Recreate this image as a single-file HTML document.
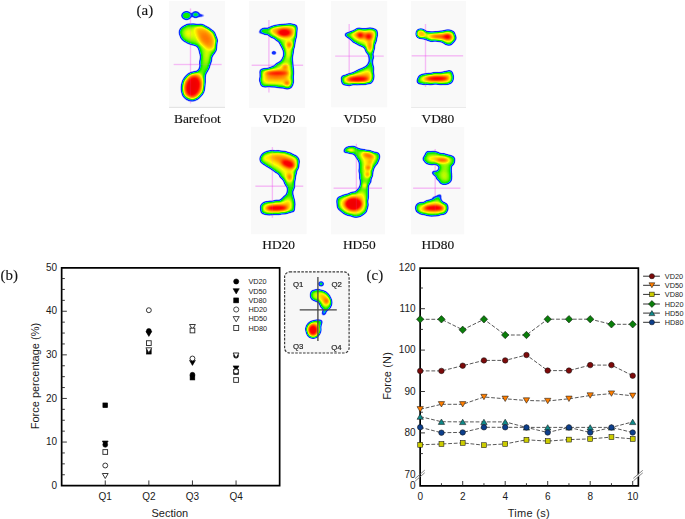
<!DOCTYPE html>
<html><head><meta charset="utf-8"><style>
html,body{margin:0;padding:0;background:#fff;}
body{width:685px;height:519px;overflow:hidden;}
svg{display:block;}
.pl{font-family:"Liberation Serif",serif;font-size:13.4px;fill:#111;stroke:#111;stroke-width:0.15px;}
.pn{font-family:"Liberation Serif",serif;font-size:15px;fill:#111;stroke:#111;stroke-width:0.12px;}
.tk{font-family:"Liberation Sans",sans-serif;font-size:10px;fill:#1a1a1a;}
.ax{font-family:"Liberation Sans",sans-serif;font-size:11px;fill:#1a1a1a;}
.lg{font-family:"Liberation Sans",sans-serif;font-size:7.3px;fill:#1a1a1a;}
.iq{font-family:"Liberation Sans",sans-serif;font-size:7.8px;fill:#222;stroke:#222;stroke-width:0.2px;}
</style></head><body>
<svg width="685" height="519" viewBox="0 0 685 519">
<defs><radialGradient id="hg"><stop offset="0" stop-color="#fff" stop-opacity="1"/><stop offset="0.3" stop-color="#fff" stop-opacity="0.9"/><stop offset="0.55" stop-color="#fff" stop-opacity="0.66"/><stop offset="0.8" stop-color="#fff" stop-opacity="0.3"/><stop offset="1" stop-color="#fff" stop-opacity="0"/></radialGradient>
<radialGradient id="hf"><stop offset="0" stop-color="#fff" stop-opacity="1"/><stop offset="0.45" stop-color="#fff" stop-opacity="0.96"/><stop offset="0.68" stop-color="#fff" stop-opacity="0.72"/><stop offset="0.86" stop-color="#fff" stop-opacity="0.32"/><stop offset="1" stop-color="#fff" stop-opacity="0"/></radialGradient><filter id="heatbare" filterUnits="userSpaceOnUse" x="0" y="0" width="685" height="519" color-interpolation-filters="sRGB">
<feGaussianBlur in="SourceAlpha" stdDeviation="1.2" result="bl"/>
<feColorMatrix in="bl" type="matrix" values="0 0 0 1 0  0 0 0 1 0  0 0 0 1 0  0 0 0 0 1" result="gr"/>
<feComponentTransfer in="gr" result="col"><feFuncR type="table" tableValues="0.471 0.439 0.408 0.376 0.345 0.314 0.267 0.220 0.173 0.125 0.078 0.067 0.056 0.045 0.034 0.022 0.011 0.000 0.000 0.000 0.000 0.000 0.000 0.000 0.000 0.000 0.000 0.000 0.000 0.000 0.020 0.039 0.059 0.078 0.098 0.118 0.137 0.157 0.216 0.275 0.333 0.392 0.451 0.510 0.569 0.627 0.681 0.734 0.787 0.840 0.894 0.947 1.000 1.000 1.000 1.000 1.000 1.000 1.000 1.000 1.000 1.000 1.000 1.000 1.000 1.000 1.000 1.000 1.000 1.000 1.000 1.000 1.000 1.000 1.000 1.000 1.000 1.000 1.000 1.000 1.000 1.000 1.000 1.000 1.000 1.000 1.000 1.000 1.000 0.993 0.987 0.980 0.974 0.967 0.961 0.954 0.948 0.941 0.935 0.928 0.922"/><feFuncG type="table" tableValues="0.549 0.518 0.486 0.455 0.424 0.392 0.345 0.298 0.251 0.204 0.157 0.168 0.179 0.190 0.202 0.213 0.224 0.235 0.322 0.408 0.494 0.580 0.667 0.734 0.801 0.868 0.905 0.910 0.916 0.922 0.924 0.926 0.929 0.931 0.934 0.936 0.939 0.941 0.946 0.951 0.956 0.961 0.966 0.971 0.975 0.980 0.983 0.986 0.989 0.992 0.994 0.997 1.000 0.975 0.949 0.924 0.898 0.873 0.847 0.822 0.796 0.771 0.745 0.718 0.691 0.664 0.637 0.610 0.583 0.556 0.529 0.502 0.472 0.443 0.413 0.383 0.354 0.324 0.295 0.265 0.235 0.206 0.176 0.147 0.118 0.088 0.059 0.029 0.000 0.000 0.000 0.000 0.000 0.000 0.000 0.000 0.000 0.000 0.000 0.000 0.000"/><feFuncB type="table" tableValues="1.000 1.000 1.000 1.000 1.000 1.000 1.000 1.000 1.000 1.000 1.000 1.000 1.000 1.000 1.000 1.000 1.000 1.000 0.988 0.976 0.965 0.953 0.941 0.762 0.583 0.403 0.269 0.179 0.090 0.000 0.000 0.000 0.000 0.000 0.000 0.000 0.000 0.000 0.000 0.000 0.000 0.000 0.000 0.000 0.000 0.000 0.000 0.000 0.000 0.000 0.000 0.000 0.000 0.000 0.000 0.000 0.000 0.000 0.000 0.000 0.000 0.000 0.000 0.000 0.000 0.000 0.000 0.000 0.000 0.000 0.000 0.000 0.000 0.000 0.000 0.000 0.000 0.000 0.000 0.000 0.000 0.000 0.000 0.000 0.000 0.000 0.000 0.000 0.000 0.000 0.000 0.000 0.000 0.000 0.000 0.000 0.000 0.000 0.000 0.000 0.000"/></feComponentTransfer>
<feComponentTransfer in="bl" result="msk"><feFuncA type="table" tableValues="0.000 0.000 0.000 0.000 0.125 0.250 0.375 0.500 0.625 0.750 0.875 1.000 1.000 1.000 1.000 1.000 1.000 1.000 1.000 1.000 1.000 1.000 1.000 1.000 1.000 1.000 1.000 1.000 1.000 1.000 1.000 1.000 1.000 1.000 1.000 1.000 1.000 1.000 1.000 1.000 1.000 1.000 1.000 1.000 1.000 1.000 1.000 1.000 1.000 1.000 1.000 1.000 1.000 1.000 1.000 1.000 1.000 1.000 1.000 1.000 1.000 1.000 1.000 1.000 1.000 1.000 1.000 1.000 1.000 1.000 1.000 1.000 1.000 1.000 1.000 1.000 1.000 1.000 1.000 1.000 1.000 1.000 1.000 1.000 1.000 1.000 1.000 1.000 1.000 1.000 1.000 1.000 1.000 1.000 1.000 1.000 1.000 1.000 1.000 1.000 1.000"/></feComponentTransfer>
<feComposite in="col" in2="msk" operator="in"/>
</filter><filter id="heatvd20" filterUnits="userSpaceOnUse" x="0" y="0" width="685" height="519" color-interpolation-filters="sRGB">
<feGaussianBlur in="SourceAlpha" stdDeviation="1.2" result="bl"/>
<feColorMatrix in="bl" type="matrix" values="0 0 0 1 0  0 0 0 1 0  0 0 0 1 0  0 0 0 0 1" result="gr"/>
<feComponentTransfer in="gr" result="col"><feFuncR type="table" tableValues="0.471 0.439 0.408 0.376 0.345 0.314 0.267 0.220 0.173 0.125 0.078 0.067 0.056 0.045 0.034 0.022 0.011 0.000 0.000 0.000 0.000 0.000 0.000 0.000 0.000 0.000 0.000 0.000 0.000 0.000 0.020 0.039 0.059 0.078 0.098 0.118 0.137 0.157 0.216 0.275 0.333 0.392 0.451 0.510 0.569 0.627 0.681 0.734 0.787 0.840 0.894 0.947 1.000 1.000 1.000 1.000 1.000 1.000 1.000 1.000 1.000 1.000 1.000 1.000 1.000 1.000 1.000 1.000 1.000 1.000 1.000 1.000 1.000 1.000 1.000 1.000 1.000 1.000 1.000 1.000 1.000 1.000 1.000 1.000 1.000 1.000 1.000 1.000 1.000 0.993 0.987 0.980 0.974 0.967 0.961 0.954 0.948 0.941 0.935 0.928 0.922"/><feFuncG type="table" tableValues="0.549 0.518 0.486 0.455 0.424 0.392 0.345 0.298 0.251 0.204 0.157 0.168 0.179 0.190 0.202 0.213 0.224 0.235 0.322 0.408 0.494 0.580 0.667 0.734 0.801 0.868 0.905 0.910 0.916 0.922 0.924 0.926 0.929 0.931 0.934 0.936 0.939 0.941 0.946 0.951 0.956 0.961 0.966 0.971 0.975 0.980 0.983 0.986 0.989 0.992 0.994 0.997 1.000 0.975 0.949 0.924 0.898 0.873 0.847 0.822 0.796 0.771 0.745 0.718 0.691 0.664 0.637 0.610 0.583 0.556 0.529 0.502 0.472 0.443 0.413 0.383 0.354 0.324 0.295 0.265 0.235 0.206 0.176 0.147 0.118 0.088 0.059 0.029 0.000 0.000 0.000 0.000 0.000 0.000 0.000 0.000 0.000 0.000 0.000 0.000 0.000"/><feFuncB type="table" tableValues="1.000 1.000 1.000 1.000 1.000 1.000 1.000 1.000 1.000 1.000 1.000 1.000 1.000 1.000 1.000 1.000 1.000 1.000 0.988 0.976 0.965 0.953 0.941 0.762 0.583 0.403 0.269 0.179 0.090 0.000 0.000 0.000 0.000 0.000 0.000 0.000 0.000 0.000 0.000 0.000 0.000 0.000 0.000 0.000 0.000 0.000 0.000 0.000 0.000 0.000 0.000 0.000 0.000 0.000 0.000 0.000 0.000 0.000 0.000 0.000 0.000 0.000 0.000 0.000 0.000 0.000 0.000 0.000 0.000 0.000 0.000 0.000 0.000 0.000 0.000 0.000 0.000 0.000 0.000 0.000 0.000 0.000 0.000 0.000 0.000 0.000 0.000 0.000 0.000 0.000 0.000 0.000 0.000 0.000 0.000 0.000 0.000 0.000 0.000 0.000 0.000"/></feComponentTransfer>
<feComponentTransfer in="bl" result="msk"><feFuncA type="table" tableValues="0.000 0.000 0.000 0.000 0.125 0.250 0.375 0.500 0.625 0.750 0.875 1.000 1.000 1.000 1.000 1.000 1.000 1.000 1.000 1.000 1.000 1.000 1.000 1.000 1.000 1.000 1.000 1.000 1.000 1.000 1.000 1.000 1.000 1.000 1.000 1.000 1.000 1.000 1.000 1.000 1.000 1.000 1.000 1.000 1.000 1.000 1.000 1.000 1.000 1.000 1.000 1.000 1.000 1.000 1.000 1.000 1.000 1.000 1.000 1.000 1.000 1.000 1.000 1.000 1.000 1.000 1.000 1.000 1.000 1.000 1.000 1.000 1.000 1.000 1.000 1.000 1.000 1.000 1.000 1.000 1.000 1.000 1.000 1.000 1.000 1.000 1.000 1.000 1.000 1.000 1.000 1.000 1.000 1.000 1.000 1.000 1.000 1.000 1.000 1.000 1.000"/></feComponentTransfer>
<feComposite in="col" in2="msk" operator="in"/>
</filter><filter id="heatvd50" filterUnits="userSpaceOnUse" x="0" y="0" width="685" height="519" color-interpolation-filters="sRGB">
<feGaussianBlur in="SourceAlpha" stdDeviation="1.2" result="bl"/>
<feColorMatrix in="bl" type="matrix" values="0 0 0 1 0  0 0 0 1 0  0 0 0 1 0  0 0 0 0 1" result="gr"/>
<feComponentTransfer in="gr" result="col"><feFuncR type="table" tableValues="0.471 0.439 0.408 0.376 0.345 0.314 0.267 0.220 0.173 0.125 0.078 0.067 0.056 0.045 0.034 0.022 0.011 0.000 0.000 0.000 0.000 0.000 0.000 0.000 0.000 0.000 0.000 0.000 0.000 0.000 0.020 0.039 0.059 0.078 0.098 0.118 0.137 0.157 0.216 0.275 0.333 0.392 0.451 0.510 0.569 0.627 0.681 0.734 0.787 0.840 0.894 0.947 1.000 1.000 1.000 1.000 1.000 1.000 1.000 1.000 1.000 1.000 1.000 1.000 1.000 1.000 1.000 1.000 1.000 1.000 1.000 1.000 1.000 1.000 1.000 1.000 1.000 1.000 1.000 1.000 1.000 1.000 1.000 1.000 1.000 1.000 1.000 1.000 1.000 0.993 0.987 0.980 0.974 0.967 0.961 0.954 0.948 0.941 0.935 0.928 0.922"/><feFuncG type="table" tableValues="0.549 0.518 0.486 0.455 0.424 0.392 0.345 0.298 0.251 0.204 0.157 0.168 0.179 0.190 0.202 0.213 0.224 0.235 0.322 0.408 0.494 0.580 0.667 0.734 0.801 0.868 0.905 0.910 0.916 0.922 0.924 0.926 0.929 0.931 0.934 0.936 0.939 0.941 0.946 0.951 0.956 0.961 0.966 0.971 0.975 0.980 0.983 0.986 0.989 0.992 0.994 0.997 1.000 0.975 0.949 0.924 0.898 0.873 0.847 0.822 0.796 0.771 0.745 0.718 0.691 0.664 0.637 0.610 0.583 0.556 0.529 0.502 0.472 0.443 0.413 0.383 0.354 0.324 0.295 0.265 0.235 0.206 0.176 0.147 0.118 0.088 0.059 0.029 0.000 0.000 0.000 0.000 0.000 0.000 0.000 0.000 0.000 0.000 0.000 0.000 0.000"/><feFuncB type="table" tableValues="1.000 1.000 1.000 1.000 1.000 1.000 1.000 1.000 1.000 1.000 1.000 1.000 1.000 1.000 1.000 1.000 1.000 1.000 0.988 0.976 0.965 0.953 0.941 0.762 0.583 0.403 0.269 0.179 0.090 0.000 0.000 0.000 0.000 0.000 0.000 0.000 0.000 0.000 0.000 0.000 0.000 0.000 0.000 0.000 0.000 0.000 0.000 0.000 0.000 0.000 0.000 0.000 0.000 0.000 0.000 0.000 0.000 0.000 0.000 0.000 0.000 0.000 0.000 0.000 0.000 0.000 0.000 0.000 0.000 0.000 0.000 0.000 0.000 0.000 0.000 0.000 0.000 0.000 0.000 0.000 0.000 0.000 0.000 0.000 0.000 0.000 0.000 0.000 0.000 0.000 0.000 0.000 0.000 0.000 0.000 0.000 0.000 0.000 0.000 0.000 0.000"/></feComponentTransfer>
<feComponentTransfer in="bl" result="msk"><feFuncA type="table" tableValues="0.000 0.000 0.000 0.000 0.125 0.250 0.375 0.500 0.625 0.750 0.875 1.000 1.000 1.000 1.000 1.000 1.000 1.000 1.000 1.000 1.000 1.000 1.000 1.000 1.000 1.000 1.000 1.000 1.000 1.000 1.000 1.000 1.000 1.000 1.000 1.000 1.000 1.000 1.000 1.000 1.000 1.000 1.000 1.000 1.000 1.000 1.000 1.000 1.000 1.000 1.000 1.000 1.000 1.000 1.000 1.000 1.000 1.000 1.000 1.000 1.000 1.000 1.000 1.000 1.000 1.000 1.000 1.000 1.000 1.000 1.000 1.000 1.000 1.000 1.000 1.000 1.000 1.000 1.000 1.000 1.000 1.000 1.000 1.000 1.000 1.000 1.000 1.000 1.000 1.000 1.000 1.000 1.000 1.000 1.000 1.000 1.000 1.000 1.000 1.000 1.000"/></feComponentTransfer>
<feComposite in="col" in2="msk" operator="in"/>
</filter><filter id="heatvd80" filterUnits="userSpaceOnUse" x="0" y="0" width="685" height="519" color-interpolation-filters="sRGB">
<feGaussianBlur in="SourceAlpha" stdDeviation="1.2" result="bl"/>
<feColorMatrix in="bl" type="matrix" values="0 0 0 1 0  0 0 0 1 0  0 0 0 1 0  0 0 0 0 1" result="gr"/>
<feComponentTransfer in="gr" result="col"><feFuncR type="table" tableValues="0.471 0.439 0.408 0.376 0.345 0.314 0.267 0.220 0.173 0.125 0.078 0.067 0.056 0.045 0.034 0.022 0.011 0.000 0.000 0.000 0.000 0.000 0.000 0.000 0.000 0.000 0.000 0.000 0.000 0.000 0.020 0.039 0.059 0.078 0.098 0.118 0.137 0.157 0.216 0.275 0.333 0.392 0.451 0.510 0.569 0.627 0.681 0.734 0.787 0.840 0.894 0.947 1.000 1.000 1.000 1.000 1.000 1.000 1.000 1.000 1.000 1.000 1.000 1.000 1.000 1.000 1.000 1.000 1.000 1.000 1.000 1.000 1.000 1.000 1.000 1.000 1.000 1.000 1.000 1.000 1.000 1.000 1.000 1.000 1.000 1.000 1.000 1.000 1.000 0.993 0.987 0.980 0.974 0.967 0.961 0.954 0.948 0.941 0.935 0.928 0.922"/><feFuncG type="table" tableValues="0.549 0.518 0.486 0.455 0.424 0.392 0.345 0.298 0.251 0.204 0.157 0.168 0.179 0.190 0.202 0.213 0.224 0.235 0.322 0.408 0.494 0.580 0.667 0.734 0.801 0.868 0.905 0.910 0.916 0.922 0.924 0.926 0.929 0.931 0.934 0.936 0.939 0.941 0.946 0.951 0.956 0.961 0.966 0.971 0.975 0.980 0.983 0.986 0.989 0.992 0.994 0.997 1.000 0.975 0.949 0.924 0.898 0.873 0.847 0.822 0.796 0.771 0.745 0.718 0.691 0.664 0.637 0.610 0.583 0.556 0.529 0.502 0.472 0.443 0.413 0.383 0.354 0.324 0.295 0.265 0.235 0.206 0.176 0.147 0.118 0.088 0.059 0.029 0.000 0.000 0.000 0.000 0.000 0.000 0.000 0.000 0.000 0.000 0.000 0.000 0.000"/><feFuncB type="table" tableValues="1.000 1.000 1.000 1.000 1.000 1.000 1.000 1.000 1.000 1.000 1.000 1.000 1.000 1.000 1.000 1.000 1.000 1.000 0.988 0.976 0.965 0.953 0.941 0.762 0.583 0.403 0.269 0.179 0.090 0.000 0.000 0.000 0.000 0.000 0.000 0.000 0.000 0.000 0.000 0.000 0.000 0.000 0.000 0.000 0.000 0.000 0.000 0.000 0.000 0.000 0.000 0.000 0.000 0.000 0.000 0.000 0.000 0.000 0.000 0.000 0.000 0.000 0.000 0.000 0.000 0.000 0.000 0.000 0.000 0.000 0.000 0.000 0.000 0.000 0.000 0.000 0.000 0.000 0.000 0.000 0.000 0.000 0.000 0.000 0.000 0.000 0.000 0.000 0.000 0.000 0.000 0.000 0.000 0.000 0.000 0.000 0.000 0.000 0.000 0.000 0.000"/></feComponentTransfer>
<feComponentTransfer in="bl" result="msk"><feFuncA type="table" tableValues="0.000 0.000 0.000 0.000 0.125 0.250 0.375 0.500 0.625 0.750 0.875 1.000 1.000 1.000 1.000 1.000 1.000 1.000 1.000 1.000 1.000 1.000 1.000 1.000 1.000 1.000 1.000 1.000 1.000 1.000 1.000 1.000 1.000 1.000 1.000 1.000 1.000 1.000 1.000 1.000 1.000 1.000 1.000 1.000 1.000 1.000 1.000 1.000 1.000 1.000 1.000 1.000 1.000 1.000 1.000 1.000 1.000 1.000 1.000 1.000 1.000 1.000 1.000 1.000 1.000 1.000 1.000 1.000 1.000 1.000 1.000 1.000 1.000 1.000 1.000 1.000 1.000 1.000 1.000 1.000 1.000 1.000 1.000 1.000 1.000 1.000 1.000 1.000 1.000 1.000 1.000 1.000 1.000 1.000 1.000 1.000 1.000 1.000 1.000 1.000 1.000"/></feComponentTransfer>
<feComposite in="col" in2="msk" operator="in"/>
</filter><filter id="heathd20" filterUnits="userSpaceOnUse" x="0" y="0" width="685" height="519" color-interpolation-filters="sRGB">
<feGaussianBlur in="SourceAlpha" stdDeviation="1.2" result="bl"/>
<feColorMatrix in="bl" type="matrix" values="0 0 0 1 0  0 0 0 1 0  0 0 0 1 0  0 0 0 0 1" result="gr"/>
<feComponentTransfer in="gr" result="col"><feFuncR type="table" tableValues="0.471 0.439 0.408 0.376 0.345 0.314 0.267 0.220 0.173 0.125 0.078 0.067 0.056 0.045 0.034 0.022 0.011 0.000 0.000 0.000 0.000 0.000 0.000 0.000 0.000 0.000 0.000 0.000 0.000 0.000 0.020 0.039 0.059 0.078 0.098 0.118 0.137 0.157 0.216 0.275 0.333 0.392 0.451 0.510 0.569 0.627 0.681 0.734 0.787 0.840 0.894 0.947 1.000 1.000 1.000 1.000 1.000 1.000 1.000 1.000 1.000 1.000 1.000 1.000 1.000 1.000 1.000 1.000 1.000 1.000 1.000 1.000 1.000 1.000 1.000 1.000 1.000 1.000 1.000 1.000 1.000 1.000 1.000 1.000 1.000 1.000 1.000 1.000 1.000 0.993 0.987 0.980 0.974 0.967 0.961 0.954 0.948 0.941 0.935 0.928 0.922"/><feFuncG type="table" tableValues="0.549 0.518 0.486 0.455 0.424 0.392 0.345 0.298 0.251 0.204 0.157 0.168 0.179 0.190 0.202 0.213 0.224 0.235 0.322 0.408 0.494 0.580 0.667 0.734 0.801 0.868 0.905 0.910 0.916 0.922 0.924 0.926 0.929 0.931 0.934 0.936 0.939 0.941 0.946 0.951 0.956 0.961 0.966 0.971 0.975 0.980 0.983 0.986 0.989 0.992 0.994 0.997 1.000 0.975 0.949 0.924 0.898 0.873 0.847 0.822 0.796 0.771 0.745 0.718 0.691 0.664 0.637 0.610 0.583 0.556 0.529 0.502 0.472 0.443 0.413 0.383 0.354 0.324 0.295 0.265 0.235 0.206 0.176 0.147 0.118 0.088 0.059 0.029 0.000 0.000 0.000 0.000 0.000 0.000 0.000 0.000 0.000 0.000 0.000 0.000 0.000"/><feFuncB type="table" tableValues="1.000 1.000 1.000 1.000 1.000 1.000 1.000 1.000 1.000 1.000 1.000 1.000 1.000 1.000 1.000 1.000 1.000 1.000 0.988 0.976 0.965 0.953 0.941 0.762 0.583 0.403 0.269 0.179 0.090 0.000 0.000 0.000 0.000 0.000 0.000 0.000 0.000 0.000 0.000 0.000 0.000 0.000 0.000 0.000 0.000 0.000 0.000 0.000 0.000 0.000 0.000 0.000 0.000 0.000 0.000 0.000 0.000 0.000 0.000 0.000 0.000 0.000 0.000 0.000 0.000 0.000 0.000 0.000 0.000 0.000 0.000 0.000 0.000 0.000 0.000 0.000 0.000 0.000 0.000 0.000 0.000 0.000 0.000 0.000 0.000 0.000 0.000 0.000 0.000 0.000 0.000 0.000 0.000 0.000 0.000 0.000 0.000 0.000 0.000 0.000 0.000"/></feComponentTransfer>
<feComponentTransfer in="bl" result="msk"><feFuncA type="table" tableValues="0.000 0.000 0.000 0.000 0.125 0.250 0.375 0.500 0.625 0.750 0.875 1.000 1.000 1.000 1.000 1.000 1.000 1.000 1.000 1.000 1.000 1.000 1.000 1.000 1.000 1.000 1.000 1.000 1.000 1.000 1.000 1.000 1.000 1.000 1.000 1.000 1.000 1.000 1.000 1.000 1.000 1.000 1.000 1.000 1.000 1.000 1.000 1.000 1.000 1.000 1.000 1.000 1.000 1.000 1.000 1.000 1.000 1.000 1.000 1.000 1.000 1.000 1.000 1.000 1.000 1.000 1.000 1.000 1.000 1.000 1.000 1.000 1.000 1.000 1.000 1.000 1.000 1.000 1.000 1.000 1.000 1.000 1.000 1.000 1.000 1.000 1.000 1.000 1.000 1.000 1.000 1.000 1.000 1.000 1.000 1.000 1.000 1.000 1.000 1.000 1.000"/></feComponentTransfer>
<feComposite in="col" in2="msk" operator="in"/>
</filter><filter id="heathd50" filterUnits="userSpaceOnUse" x="0" y="0" width="685" height="519" color-interpolation-filters="sRGB">
<feGaussianBlur in="SourceAlpha" stdDeviation="1.2" result="bl"/>
<feColorMatrix in="bl" type="matrix" values="0 0 0 1 0  0 0 0 1 0  0 0 0 1 0  0 0 0 0 1" result="gr"/>
<feComponentTransfer in="gr" result="col"><feFuncR type="table" tableValues="0.471 0.439 0.408 0.376 0.345 0.314 0.267 0.220 0.173 0.125 0.078 0.067 0.056 0.045 0.034 0.022 0.011 0.000 0.000 0.000 0.000 0.000 0.000 0.000 0.000 0.000 0.000 0.000 0.000 0.000 0.020 0.039 0.059 0.078 0.098 0.118 0.137 0.157 0.216 0.275 0.333 0.392 0.451 0.510 0.569 0.627 0.681 0.734 0.787 0.840 0.894 0.947 1.000 1.000 1.000 1.000 1.000 1.000 1.000 1.000 1.000 1.000 1.000 1.000 1.000 1.000 1.000 1.000 1.000 1.000 1.000 1.000 1.000 1.000 1.000 1.000 1.000 1.000 1.000 1.000 1.000 1.000 1.000 1.000 1.000 1.000 1.000 1.000 1.000 0.993 0.987 0.980 0.974 0.967 0.961 0.954 0.948 0.941 0.935 0.928 0.922"/><feFuncG type="table" tableValues="0.549 0.518 0.486 0.455 0.424 0.392 0.345 0.298 0.251 0.204 0.157 0.168 0.179 0.190 0.202 0.213 0.224 0.235 0.322 0.408 0.494 0.580 0.667 0.734 0.801 0.868 0.905 0.910 0.916 0.922 0.924 0.926 0.929 0.931 0.934 0.936 0.939 0.941 0.946 0.951 0.956 0.961 0.966 0.971 0.975 0.980 0.983 0.986 0.989 0.992 0.994 0.997 1.000 0.975 0.949 0.924 0.898 0.873 0.847 0.822 0.796 0.771 0.745 0.718 0.691 0.664 0.637 0.610 0.583 0.556 0.529 0.502 0.472 0.443 0.413 0.383 0.354 0.324 0.295 0.265 0.235 0.206 0.176 0.147 0.118 0.088 0.059 0.029 0.000 0.000 0.000 0.000 0.000 0.000 0.000 0.000 0.000 0.000 0.000 0.000 0.000"/><feFuncB type="table" tableValues="1.000 1.000 1.000 1.000 1.000 1.000 1.000 1.000 1.000 1.000 1.000 1.000 1.000 1.000 1.000 1.000 1.000 1.000 0.988 0.976 0.965 0.953 0.941 0.762 0.583 0.403 0.269 0.179 0.090 0.000 0.000 0.000 0.000 0.000 0.000 0.000 0.000 0.000 0.000 0.000 0.000 0.000 0.000 0.000 0.000 0.000 0.000 0.000 0.000 0.000 0.000 0.000 0.000 0.000 0.000 0.000 0.000 0.000 0.000 0.000 0.000 0.000 0.000 0.000 0.000 0.000 0.000 0.000 0.000 0.000 0.000 0.000 0.000 0.000 0.000 0.000 0.000 0.000 0.000 0.000 0.000 0.000 0.000 0.000 0.000 0.000 0.000 0.000 0.000 0.000 0.000 0.000 0.000 0.000 0.000 0.000 0.000 0.000 0.000 0.000 0.000"/></feComponentTransfer>
<feComponentTransfer in="bl" result="msk"><feFuncA type="table" tableValues="0.000 0.000 0.000 0.000 0.125 0.250 0.375 0.500 0.625 0.750 0.875 1.000 1.000 1.000 1.000 1.000 1.000 1.000 1.000 1.000 1.000 1.000 1.000 1.000 1.000 1.000 1.000 1.000 1.000 1.000 1.000 1.000 1.000 1.000 1.000 1.000 1.000 1.000 1.000 1.000 1.000 1.000 1.000 1.000 1.000 1.000 1.000 1.000 1.000 1.000 1.000 1.000 1.000 1.000 1.000 1.000 1.000 1.000 1.000 1.000 1.000 1.000 1.000 1.000 1.000 1.000 1.000 1.000 1.000 1.000 1.000 1.000 1.000 1.000 1.000 1.000 1.000 1.000 1.000 1.000 1.000 1.000 1.000 1.000 1.000 1.000 1.000 1.000 1.000 1.000 1.000 1.000 1.000 1.000 1.000 1.000 1.000 1.000 1.000 1.000 1.000"/></feComponentTransfer>
<feComposite in="col" in2="msk" operator="in"/>
</filter><filter id="heathd80" filterUnits="userSpaceOnUse" x="0" y="0" width="685" height="519" color-interpolation-filters="sRGB">
<feGaussianBlur in="SourceAlpha" stdDeviation="1.2" result="bl"/>
<feColorMatrix in="bl" type="matrix" values="0 0 0 1 0  0 0 0 1 0  0 0 0 1 0  0 0 0 0 1" result="gr"/>
<feComponentTransfer in="gr" result="col"><feFuncR type="table" tableValues="0.471 0.439 0.408 0.376 0.345 0.314 0.267 0.220 0.173 0.125 0.078 0.067 0.056 0.045 0.034 0.022 0.011 0.000 0.000 0.000 0.000 0.000 0.000 0.000 0.000 0.000 0.000 0.000 0.000 0.000 0.020 0.039 0.059 0.078 0.098 0.118 0.137 0.157 0.216 0.275 0.333 0.392 0.451 0.510 0.569 0.627 0.681 0.734 0.787 0.840 0.894 0.947 1.000 1.000 1.000 1.000 1.000 1.000 1.000 1.000 1.000 1.000 1.000 1.000 1.000 1.000 1.000 1.000 1.000 1.000 1.000 1.000 1.000 1.000 1.000 1.000 1.000 1.000 1.000 1.000 1.000 1.000 1.000 1.000 1.000 1.000 1.000 1.000 1.000 0.993 0.987 0.980 0.974 0.967 0.961 0.954 0.948 0.941 0.935 0.928 0.922"/><feFuncG type="table" tableValues="0.549 0.518 0.486 0.455 0.424 0.392 0.345 0.298 0.251 0.204 0.157 0.168 0.179 0.190 0.202 0.213 0.224 0.235 0.322 0.408 0.494 0.580 0.667 0.734 0.801 0.868 0.905 0.910 0.916 0.922 0.924 0.926 0.929 0.931 0.934 0.936 0.939 0.941 0.946 0.951 0.956 0.961 0.966 0.971 0.975 0.980 0.983 0.986 0.989 0.992 0.994 0.997 1.000 0.975 0.949 0.924 0.898 0.873 0.847 0.822 0.796 0.771 0.745 0.718 0.691 0.664 0.637 0.610 0.583 0.556 0.529 0.502 0.472 0.443 0.413 0.383 0.354 0.324 0.295 0.265 0.235 0.206 0.176 0.147 0.118 0.088 0.059 0.029 0.000 0.000 0.000 0.000 0.000 0.000 0.000 0.000 0.000 0.000 0.000 0.000 0.000"/><feFuncB type="table" tableValues="1.000 1.000 1.000 1.000 1.000 1.000 1.000 1.000 1.000 1.000 1.000 1.000 1.000 1.000 1.000 1.000 1.000 1.000 0.988 0.976 0.965 0.953 0.941 0.762 0.583 0.403 0.269 0.179 0.090 0.000 0.000 0.000 0.000 0.000 0.000 0.000 0.000 0.000 0.000 0.000 0.000 0.000 0.000 0.000 0.000 0.000 0.000 0.000 0.000 0.000 0.000 0.000 0.000 0.000 0.000 0.000 0.000 0.000 0.000 0.000 0.000 0.000 0.000 0.000 0.000 0.000 0.000 0.000 0.000 0.000 0.000 0.000 0.000 0.000 0.000 0.000 0.000 0.000 0.000 0.000 0.000 0.000 0.000 0.000 0.000 0.000 0.000 0.000 0.000 0.000 0.000 0.000 0.000 0.000 0.000 0.000 0.000 0.000 0.000 0.000 0.000"/></feComponentTransfer>
<feComponentTransfer in="bl" result="msk"><feFuncA type="table" tableValues="0.000 0.000 0.000 0.000 0.125 0.250 0.375 0.500 0.625 0.750 0.875 1.000 1.000 1.000 1.000 1.000 1.000 1.000 1.000 1.000 1.000 1.000 1.000 1.000 1.000 1.000 1.000 1.000 1.000 1.000 1.000 1.000 1.000 1.000 1.000 1.000 1.000 1.000 1.000 1.000 1.000 1.000 1.000 1.000 1.000 1.000 1.000 1.000 1.000 1.000 1.000 1.000 1.000 1.000 1.000 1.000 1.000 1.000 1.000 1.000 1.000 1.000 1.000 1.000 1.000 1.000 1.000 1.000 1.000 1.000 1.000 1.000 1.000 1.000 1.000 1.000 1.000 1.000 1.000 1.000 1.000 1.000 1.000 1.000 1.000 1.000 1.000 1.000 1.000 1.000 1.000 1.000 1.000 1.000 1.000 1.000 1.000 1.000 1.000 1.000 1.000"/></feComponentTransfer>
<feComposite in="col" in2="msk" operator="in"/>
</filter><filter id="heatinset" filterUnits="userSpaceOnUse" x="0" y="0" width="685" height="519" color-interpolation-filters="sRGB">
<feGaussianBlur in="SourceAlpha" stdDeviation="1.2" result="bl"/>
<feColorMatrix in="bl" type="matrix" values="0 0 0 1 0  0 0 0 1 0  0 0 0 1 0  0 0 0 0 1" result="gr"/>
<feComponentTransfer in="gr" result="col"><feFuncR type="table" tableValues="0.471 0.439 0.408 0.376 0.345 0.314 0.267 0.220 0.173 0.125 0.078 0.067 0.056 0.045 0.034 0.022 0.011 0.000 0.000 0.000 0.000 0.000 0.000 0.000 0.000 0.000 0.000 0.000 0.000 0.000 0.020 0.039 0.059 0.078 0.098 0.118 0.137 0.157 0.216 0.275 0.333 0.392 0.451 0.510 0.569 0.627 0.681 0.734 0.787 0.840 0.894 0.947 1.000 1.000 1.000 1.000 1.000 1.000 1.000 1.000 1.000 1.000 1.000 1.000 1.000 1.000 1.000 1.000 1.000 1.000 1.000 1.000 1.000 1.000 1.000 1.000 1.000 1.000 1.000 1.000 1.000 1.000 1.000 1.000 1.000 1.000 1.000 1.000 1.000 0.993 0.987 0.980 0.974 0.967 0.961 0.954 0.948 0.941 0.935 0.928 0.922"/><feFuncG type="table" tableValues="0.549 0.518 0.486 0.455 0.424 0.392 0.345 0.298 0.251 0.204 0.157 0.168 0.179 0.190 0.202 0.213 0.224 0.235 0.322 0.408 0.494 0.580 0.667 0.734 0.801 0.868 0.905 0.910 0.916 0.922 0.924 0.926 0.929 0.931 0.934 0.936 0.939 0.941 0.946 0.951 0.956 0.961 0.966 0.971 0.975 0.980 0.983 0.986 0.989 0.992 0.994 0.997 1.000 0.975 0.949 0.924 0.898 0.873 0.847 0.822 0.796 0.771 0.745 0.718 0.691 0.664 0.637 0.610 0.583 0.556 0.529 0.502 0.472 0.443 0.413 0.383 0.354 0.324 0.295 0.265 0.235 0.206 0.176 0.147 0.118 0.088 0.059 0.029 0.000 0.000 0.000 0.000 0.000 0.000 0.000 0.000 0.000 0.000 0.000 0.000 0.000"/><feFuncB type="table" tableValues="1.000 1.000 1.000 1.000 1.000 1.000 1.000 1.000 1.000 1.000 1.000 1.000 1.000 1.000 1.000 1.000 1.000 1.000 0.988 0.976 0.965 0.953 0.941 0.762 0.583 0.403 0.269 0.179 0.090 0.000 0.000 0.000 0.000 0.000 0.000 0.000 0.000 0.000 0.000 0.000 0.000 0.000 0.000 0.000 0.000 0.000 0.000 0.000 0.000 0.000 0.000 0.000 0.000 0.000 0.000 0.000 0.000 0.000 0.000 0.000 0.000 0.000 0.000 0.000 0.000 0.000 0.000 0.000 0.000 0.000 0.000 0.000 0.000 0.000 0.000 0.000 0.000 0.000 0.000 0.000 0.000 0.000 0.000 0.000 0.000 0.000 0.000 0.000 0.000 0.000 0.000 0.000 0.000 0.000 0.000 0.000 0.000 0.000 0.000 0.000 0.000"/></feComponentTransfer>
<feComponentTransfer in="bl" result="msk"><feFuncA type="table" tableValues="0.000 0.000 0.000 0.000 0.125 0.250 0.375 0.500 0.625 0.750 0.875 1.000 1.000 1.000 1.000 1.000 1.000 1.000 1.000 1.000 1.000 1.000 1.000 1.000 1.000 1.000 1.000 1.000 1.000 1.000 1.000 1.000 1.000 1.000 1.000 1.000 1.000 1.000 1.000 1.000 1.000 1.000 1.000 1.000 1.000 1.000 1.000 1.000 1.000 1.000 1.000 1.000 1.000 1.000 1.000 1.000 1.000 1.000 1.000 1.000 1.000 1.000 1.000 1.000 1.000 1.000 1.000 1.000 1.000 1.000 1.000 1.000 1.000 1.000 1.000 1.000 1.000 1.000 1.000 1.000 1.000 1.000 1.000 1.000 1.000 1.000 1.000 1.000 1.000 1.000 1.000 1.000 1.000 1.000 1.000 1.000 1.000 1.000 1.000 1.000 1.000"/></feComponentTransfer>
<feComposite in="col" in2="msk" operator="in"/>
</filter><filter id="b1_2" filterUnits="userSpaceOnUse" x="0" y="0" width="685" height="519"><feGaussianBlur stdDeviation="1.2"/></filter><filter id="b1_3" filterUnits="userSpaceOnUse" x="0" y="0" width="685" height="519"><feGaussianBlur stdDeviation="1.3"/></filter><filter id="b1_4" filterUnits="userSpaceOnUse" x="0" y="0" width="685" height="519"><feGaussianBlur stdDeviation="1.4"/></filter><filter id="b1_5" filterUnits="userSpaceOnUse" x="0" y="0" width="685" height="519"><feGaussianBlur stdDeviation="1.5"/></filter><filter id="b1_6" filterUnits="userSpaceOnUse" x="0" y="0" width="685" height="519"><feGaussianBlur stdDeviation="1.6"/></filter><filter id="b1_8" filterUnits="userSpaceOnUse" x="0" y="0" width="685" height="519"><feGaussianBlur stdDeviation="1.8"/></filter><filter id="b2_0" filterUnits="userSpaceOnUse" x="0" y="0" width="685" height="519"><feGaussianBlur stdDeviation="2"/></filter><filter id="b2_1" filterUnits="userSpaceOnUse" x="0" y="0" width="685" height="519"><feGaussianBlur stdDeviation="2.1"/></filter><filter id="b2_2" filterUnits="userSpaceOnUse" x="0" y="0" width="685" height="519"><feGaussianBlur stdDeviation="2.2"/></filter><filter id="b2_4" filterUnits="userSpaceOnUse" x="0" y="0" width="685" height="519"><feGaussianBlur stdDeviation="2.4"/></filter></defs>
<rect x="169.1" y="1.0" width="55.90" height="106.60" fill="#f9f9f9"/>
<rect x="249.1" y="1.0" width="55.90" height="107.00" fill="#f9f9f9"/>
<rect x="331.1" y="1.0" width="56.10" height="106.30" fill="#f9f9f9"/>
<rect x="411.1" y="1.0" width="54.90" height="106.30" fill="#f9f9f9"/>
<rect x="251.1" y="126.8" width="55.60" height="107.40" fill="#f9f9f9"/>
<rect x="331.1" y="126.9" width="53.80" height="107.50" fill="#f9f9f9"/>
<rect x="411.1" y="126.9" width="53.10" height="107.50" fill="#f9f9f9"/>
<line x1="190.5" y1="8.5" x2="190.5" y2="103.4" stroke="#ee44ee" stroke-opacity="0.24" stroke-width="1.4"/>
<line x1="173.7" y1="64.5" x2="221.6" y2="64.5" stroke="#ee44ee" stroke-opacity="0.24" stroke-width="1.4"/>
<g filter="url(#heatbare)"><ellipse cx="186.5" cy="15.6" rx="4.7" ry="3.8" fill="#fff" fill-opacity="0.3"/><ellipse cx="195.6" cy="14.6" rx="3.5" ry="2.9" fill="#fff" fill-opacity="0.28"/><path d="M199,14.6 C201,14.3 203.5,14.8 205,15.6 C203.5,16.6 201,16.8 199,16.4 Z" fill="#fff" fill-opacity="0.2"/><ellipse cx="186.5" cy="15.6" rx="2.5" ry="2" fill="#fff" fill-opacity="0.1" filter="url(#b1_2)"/><path d="M180.10,30.00 C180.58,29.13 181.76,28.19 182.53,27.58 C183.29,26.97 183.85,26.83 184.69,26.36 C185.53,25.89 186.70,25.03 187.59,24.75 C188.47,24.47 189.18,24.74 190.01,24.69 C190.85,24.63 191.73,24.41 192.58,24.41 C193.44,24.42 194.29,24.58 195.14,24.71 C195.99,24.84 196.78,25.18 197.66,25.18 C198.54,25.19 199.55,24.72 200.42,24.74 C201.29,24.77 202.04,24.86 202.88,25.34 C203.71,25.82 204.52,27.08 205.43,27.64 C206.34,28.20 207.47,28.16 208.32,28.69 C209.17,29.23 209.68,30.27 210.53,30.83 C211.38,31.39 212.74,31.43 213.42,32.06 C214.09,32.69 214.24,33.74 214.57,34.59 C214.89,35.44 214.98,36.26 215.35,37.16 C215.72,38.06 216.69,38.97 216.79,40.01 C216.90,41.05 216.17,42.46 215.98,43.42 C215.79,44.39 215.63,44.92 215.65,45.80 C215.67,46.68 216.17,47.82 216.10,48.71 C216.04,49.61 215.75,50.32 215.26,51.19 C214.77,52.05 213.83,53.01 213.15,53.89 C212.47,54.76 211.57,55.49 211.20,56.45 C210.82,57.42 211.06,58.64 210.90,59.68 C210.73,60.71 210.52,61.70 210.22,62.67 C209.91,63.63 209.34,64.47 209.07,65.45 C208.79,66.44 208.94,67.59 208.56,68.56 C208.18,69.53 207.37,70.34 206.79,71.28 C206.22,72.22 205.49,73.31 205.11,74.21 C204.74,75.10 204.63,75.79 204.55,76.65 C204.47,77.51 204.67,78.48 204.64,79.38 C204.61,80.27 204.46,81.16 204.38,82.04 C204.30,82.92 204.29,83.79 204.16,84.66 C204.03,85.52 203.73,86.39 203.61,87.23 C203.48,88.06 203.57,88.72 203.41,89.66 C203.25,90.60 203.21,92.02 202.65,92.87 C202.10,93.72 200.87,94.03 200.06,94.74 C199.25,95.45 198.66,96.51 197.80,97.13 C196.94,97.75 195.82,98.06 194.89,98.45 C193.96,98.84 193.06,99.54 192.21,99.46 C191.36,99.38 190.58,98.34 189.79,97.96 C189.01,97.59 188.31,97.49 187.48,97.21 C186.65,96.94 185.46,96.93 184.80,96.33 C184.15,95.72 183.83,94.56 183.56,93.59 C183.29,92.62 183.30,91.52 183.19,90.48 C183.08,89.44 182.84,88.39 182.89,87.35 C182.94,86.32 183.35,85.30 183.48,84.27 C183.62,83.25 183.32,82.09 183.67,81.20 C184.03,80.32 184.97,79.69 185.60,78.97 C186.23,78.25 186.78,77.59 187.46,76.91 C188.15,76.22 188.80,75.37 189.69,74.84 C190.58,74.31 191.78,74.08 192.81,73.71 C193.84,73.35 194.96,73.08 195.87,72.66 C196.78,72.23 197.61,71.78 198.25,71.17 C198.89,70.56 199.31,69.83 199.71,68.99 C200.10,68.15 200.55,67.15 200.63,66.12 C200.70,65.09 200.16,63.86 200.15,62.83 C200.13,61.79 200.37,60.89 200.55,59.91 C200.72,58.92 201.22,57.94 201.21,56.94 C201.21,55.94 200.77,54.87 200.52,53.90 C200.27,52.92 199.95,52.01 199.73,51.10 C199.51,50.19 199.50,49.24 199.19,48.43 C198.88,47.62 198.41,46.81 197.87,46.23 C197.32,45.66 196.66,45.27 195.93,44.99 C195.21,44.70 194.39,44.73 193.52,44.52 C192.65,44.30 191.65,43.97 190.70,43.68 C189.75,43.38 188.68,43.16 187.82,42.75 C186.96,42.35 186.30,41.70 185.55,41.24 C184.79,40.79 183.96,40.54 183.29,40.01 C182.61,39.48 181.96,38.79 181.51,38.06 C181.05,37.32 180.87,36.47 180.56,35.59 C180.25,34.71 179.73,33.71 179.65,32.78 C179.57,31.85 179.62,30.86 180.10,30.00 Z" fill="#fff" fill-opacity="0.33"/><path d="M182.74,30.61 C182.87,29.61 182.59,29.57 183.48,29.01 C184.38,28.45 186.21,27.62 188.13,27.23 C190.05,26.85 192.72,26.56 195.02,26.69 C197.33,26.83 199.96,27.40 201.97,28.05 C203.98,28.71 205.53,29.64 207.08,30.63 C208.63,31.61 210.17,32.80 211.25,33.99 C212.33,35.18 213.03,36.21 213.56,37.76 C214.08,39.31 214.57,41.22 214.41,43.29 C214.24,45.36 213.36,48.08 212.58,50.18 C211.80,52.27 210.53,53.90 209.73,55.85 C208.92,57.80 208.38,59.93 207.75,61.87 C207.12,63.80 206.73,65.50 205.93,67.45 C205.12,69.40 203.60,71.19 202.92,73.57 C202.23,75.95 202.14,79.16 201.82,81.73 C201.50,84.30 201.52,87.01 201.01,88.99 C200.50,90.96 199.90,92.33 198.78,93.59 C197.65,94.85 195.70,96.06 194.27,96.55 C192.84,97.04 191.42,96.84 190.19,96.51 C188.96,96.18 187.76,95.64 186.90,94.57 C186.04,93.51 185.35,91.78 185.04,90.11 C184.73,88.45 184.72,86.27 185.04,84.59 C185.37,82.91 185.99,81.29 186.99,80.02 C187.98,78.74 189.38,77.93 191.00,76.94 C192.63,75.94 194.98,75.22 196.75,74.07 C198.52,72.92 200.59,71.88 201.63,70.05 C202.67,68.21 202.76,65.26 202.99,63.06 C203.22,60.86 203.11,58.96 203.00,56.85 C202.88,54.73 202.91,52.36 202.28,50.36 C201.65,48.37 200.55,46.23 199.22,44.88 C197.90,43.53 196.09,42.97 194.33,42.28 C192.57,41.59 190.26,41.37 188.67,40.74 C187.09,40.10 185.82,39.43 184.82,38.48 C183.82,37.52 183.04,36.32 182.69,35.01 C182.35,33.70 182.61,31.61 182.74,30.61 Z" fill="#fff" fill-opacity="0.22" filter="url(#b2_4)"/><path d="M194.86,27.81 C196.22,27.35 200.99,26.44 203.62,26.96 C206.24,27.49 208.79,29.17 210.61,30.94 C212.44,32.72 213.86,35.33 214.60,37.61 C215.33,39.90 215.28,42.72 215.03,44.65 C214.78,46.58 214.31,48.63 213.11,49.21 C211.90,49.80 209.73,49.09 207.79,48.16 C205.85,47.23 203.13,45.47 201.47,43.65 C199.82,41.82 198.84,39.53 197.84,37.20 C196.83,34.88 195.97,31.24 195.47,29.67 C194.98,28.10 193.50,28.26 194.86,27.81 Z" fill="#fff" fill-opacity="0.36" filter="url(#b1_8)"/><ellipse cx="206" cy="38" rx="7" ry="4.2" fill="#fff" fill-opacity="0.2" filter="url(#b2_2)" transform="rotate(51 206 38)"/><ellipse cx="188" cy="33" rx="5" ry="5" fill="#fff" fill-opacity="0.08" filter="url(#b2_0)"/><ellipse cx="207" cy="58" rx="3" ry="9" fill="#fff" fill-opacity="0.08" filter="url(#b2_0)"/><ellipse cx="193" cy="86.5" rx="10" ry="13.5" fill="#fff" fill-opacity="0.38" filter="url(#b1_4)" transform="rotate(14 193 86.5)"/><ellipse cx="193" cy="86.5" rx="7.2" ry="10.5" fill="#fff" fill-opacity="0.9" filter="url(#b2_1)" transform="rotate(14 193 86.5)"/></g>
<line x1="190.5" y1="8.5" x2="190.5" y2="103.4" stroke="#ee44ee" stroke-opacity="0.13" stroke-width="1.2"/>
<line x1="173.7" y1="64.5" x2="221.6" y2="64.5" stroke="#ee44ee" stroke-opacity="0.13" stroke-width="1.2"/>
<line x1="268.9" y1="19.9" x2="268.9" y2="92.6" stroke="#ee44ee" stroke-opacity="0.24" stroke-width="1.4"/>
<line x1="251.7" y1="65.3" x2="303.1" y2="65.3" stroke="#ee44ee" stroke-opacity="0.24" stroke-width="1.4"/>
<g filter="url(#heatvd20)"><path d="M258.77,32.76 C259.07,32.52 259.84,31.72 260.39,31.15 C260.94,30.57 261.31,29.74 262.07,29.32 C262.84,28.90 264.06,28.68 264.97,28.61 C265.88,28.54 266.70,29.02 267.55,28.91 C268.40,28.81 269.22,28.28 270.05,28.00 C270.88,27.71 271.54,27.56 272.55,27.21 C273.56,26.85 274.89,26.14 276.11,25.88 C277.32,25.62 278.60,25.76 279.85,25.64 C281.09,25.51 282.37,25.27 283.58,25.13 C284.80,25.00 286.01,24.96 287.13,24.81 C288.26,24.67 289.36,24.25 290.33,24.26 C291.31,24.27 292.00,24.63 293.00,24.90 C293.99,25.16 295.75,25.12 296.32,25.83 C296.88,26.55 296.45,28.21 296.39,29.16 C296.33,30.11 296.07,30.72 295.97,31.54 C295.87,32.36 295.81,33.27 295.79,34.08 C295.77,34.89 295.92,35.64 295.84,36.39 C295.76,37.14 295.49,37.86 295.31,38.59 C295.13,39.33 294.91,40.04 294.75,40.80 C294.59,41.56 294.48,42.30 294.35,43.17 C294.23,44.04 294.20,45.06 293.99,46.04 C293.77,47.03 293.27,48.10 293.06,49.09 C292.84,50.09 292.84,51.03 292.69,52.03 C292.54,53.02 292.36,53.95 292.17,55.07 C291.97,56.18 291.51,57.49 291.52,58.73 C291.54,59.97 292.12,61.29 292.26,62.53 C292.41,63.78 292.29,65.00 292.40,66.22 C292.52,67.45 292.85,68.65 292.97,69.90 C293.09,71.15 293.19,72.48 293.12,73.72 C293.05,74.95 292.57,76.17 292.54,77.30 C292.52,78.42 292.99,79.47 292.99,80.46 C293.00,81.45 292.89,82.19 292.59,83.24 C292.28,84.29 291.57,86.03 291.15,86.77 C290.73,87.51 290.74,87.38 290.06,87.68 C289.39,87.97 288.00,88.59 287.10,88.55 C286.20,88.50 285.59,87.62 284.68,87.39 C283.77,87.17 282.68,87.28 281.64,87.19 C280.59,87.11 279.45,87.04 278.41,86.89 C277.37,86.75 276.55,86.44 275.42,86.34 C274.28,86.23 272.84,86.31 271.59,86.26 C270.35,86.20 269.05,85.97 267.94,86.00 C266.84,86.02 266.05,86.55 264.96,86.41 C263.87,86.27 262.03,85.67 261.40,85.14 C260.77,84.62 261.39,84.06 261.16,83.25 C260.93,82.44 260.09,81.25 260.02,80.26 C259.96,79.27 260.66,78.27 260.79,77.31 C260.92,76.34 260.86,75.38 260.80,74.45 C260.74,73.53 260.41,72.53 260.44,71.75 C260.48,70.97 260.26,70.19 261.03,69.76 C261.80,69.33 263.88,69.26 265.06,69.17 C266.24,69.08 267.10,69.48 268.11,69.24 C269.11,69.00 270.06,68.21 271.12,67.74 C272.18,67.26 273.49,67.05 274.48,66.39 C275.47,65.73 276.12,64.45 277.05,63.78 C277.98,63.12 279.20,62.98 280.06,62.42 C280.92,61.86 281.67,61.14 282.21,60.41 C282.75,59.68 282.93,58.80 283.28,58.06 C283.62,57.31 284.05,56.77 284.28,55.95 C284.51,55.13 284.75,54.07 284.67,53.13 C284.58,52.20 284.09,51.19 283.78,50.35 C283.48,49.51 283.20,48.81 282.83,48.09 C282.46,47.36 281.98,46.77 281.56,46.01 C281.15,45.25 280.76,44.37 280.32,43.53 C279.89,42.68 279.61,41.54 278.96,40.94 C278.31,40.34 277.16,40.48 276.41,39.93 C275.67,39.38 275.39,38.17 274.50,37.62 C273.61,37.07 272.12,37.19 271.09,36.63 C270.06,36.06 269.35,34.65 268.31,34.22 C267.27,33.80 265.88,34.33 264.85,34.06 C263.82,33.78 263.19,32.83 262.15,32.58 C261.10,32.34 259.14,32.55 258.58,32.58 C258.01,32.61 258.47,33.00 258.77,32.76 Z" fill="#fff" fill-opacity="0.33"/><path d="M260.28,33.23 C260.56,33.52 260.13,32.91 261.04,32.58 C261.95,32.26 263.75,31.86 265.75,31.28 C267.74,30.70 270.63,29.71 273.03,29.11 C275.43,28.51 277.80,28.03 280.16,27.66 C282.52,27.30 285.13,26.98 287.21,26.90 C289.29,26.81 291.42,27.08 292.64,27.16 C293.87,27.25 294.26,27.06 294.57,27.40 C294.88,27.75 294.56,28.16 294.50,29.23 C294.45,30.31 294.46,32.39 294.24,33.84 C294.01,35.29 293.57,36.47 293.13,37.93 C292.68,39.39 291.95,40.77 291.56,42.58 C291.18,44.39 291.12,46.72 290.83,48.78 C290.54,50.84 289.93,52.63 289.80,54.94 C289.68,57.25 290.00,60.13 290.10,62.62 C290.20,65.11 290.40,67.45 290.40,69.90 C290.40,72.35 290.10,75.11 290.10,77.30 C290.10,79.49 290.37,81.71 290.41,83.07 C290.44,84.43 290.86,84.99 290.31,85.46 C289.76,85.93 289.56,86.02 287.10,85.90 C284.64,85.78 279.21,85.03 275.56,84.71 C271.91,84.40 267.33,84.07 265.20,84.02 C263.07,83.96 263.19,85.01 262.77,84.36 C262.35,83.71 262.71,81.75 262.69,80.12 C262.68,78.49 262.70,76.08 262.69,74.59 C262.69,73.10 262.20,71.71 262.67,71.16 C263.14,70.62 263.97,71.57 265.52,71.34 C267.07,71.10 269.83,70.69 271.99,69.75 C274.15,68.82 276.55,67.11 278.45,65.73 C280.36,64.36 282.12,63.07 283.44,61.50 C284.75,59.93 285.99,58.23 286.36,56.30 C286.72,54.37 286.04,51.84 285.62,49.93 C285.21,48.02 284.76,46.57 283.88,44.85 C282.99,43.12 281.74,41.02 280.32,39.58 C278.90,38.14 277.24,37.37 275.34,36.22 C273.44,35.08 271.06,33.58 268.92,32.72 C266.78,31.86 264.07,31.37 262.48,31.06 C260.89,30.75 259.76,30.48 259.39,30.85 C259.02,31.21 260.00,32.94 260.28,33.23 Z" fill="#fff" fill-opacity="0.24" filter="url(#b2_4)"/><path d="M271.31,28.51 C272.90,27.46 278.64,26.75 282.17,26.49 C285.71,26.23 290.46,26.60 292.53,26.94 C294.60,27.29 294.32,27.33 294.58,28.57 C294.84,29.82 294.49,32.96 294.09,34.39 C293.69,35.83 293.51,36.66 292.18,37.18 C290.85,37.69 288.38,37.68 286.13,37.50 C283.88,37.33 280.94,36.90 278.69,36.12 C276.44,35.34 273.85,34.09 272.62,32.82 C271.39,31.56 269.71,29.57 271.31,28.51 Z" fill="#fff" fill-opacity="0.4" filter="url(#b1_8)"/><ellipse cx="284.2" cy="32.6" rx="6.5" ry="3.3" fill="#fff" fill-opacity="0.88" filter="url(#b1_6)"/><ellipse cx="289.4" cy="44.7" rx="2.5" ry="3" fill="#fff" fill-opacity="0.7" filter="url(#b1_5)"/><ellipse cx="288.5" cy="53" rx="2.5" ry="6" fill="#fff" fill-opacity="0.2" filter="url(#b1_5)"/><path d="M263.16,72.13 C265.26,70.80 272.01,70.95 275.57,69.92 C279.12,68.89 282.18,66.73 284.49,65.94 C286.79,65.15 288.46,63.65 289.38,65.18 C290.30,66.70 289.79,71.87 290.00,75.09 C290.21,78.32 292.30,83.04 290.65,84.53 C288.99,86.01 284.55,84.23 280.07,84.00 C275.59,83.77 266.62,84.18 263.78,83.16 C260.93,82.13 263.10,79.70 263.00,77.86 C262.89,76.02 261.07,73.45 263.16,72.13 Z" fill="#fff" fill-opacity="0.18" filter="url(#b1_8)"/><ellipse cx="277" cy="73.2" rx="12" ry="1.9" fill="#fff" fill-opacity="0.9" filter="url(#b1_4)"/><ellipse cx="276.5" cy="77.8" rx="11" ry="1.5" fill="#fff" fill-opacity="0.4" filter="url(#b1_2)"/><ellipse cx="287.1" cy="83.3" rx="2.5" ry="2.2" fill="#fff" fill-opacity="0.6" filter="url(#b1_3)"/><ellipse cx="284.9" cy="67" rx="2.5" ry="2" fill="#fff" fill-opacity="0.5" filter="url(#b1_3)"/><ellipse cx="273.9" cy="52.9" rx="2.1" ry="1.3" fill="#fff" fill-opacity="0.26"/></g>
<line x1="268.9" y1="19.9" x2="268.9" y2="92.6" stroke="#ee44ee" stroke-opacity="0.13" stroke-width="1.2"/>
<line x1="251.7" y1="65.3" x2="303.1" y2="65.3" stroke="#ee44ee" stroke-opacity="0.13" stroke-width="1.2"/>
<line x1="349.2" y1="24.0" x2="349.2" y2="87.4" stroke="#ee44ee" stroke-opacity="0.24" stroke-width="1.4"/>
<line x1="335.2" y1="56.1" x2="383.7" y2="56.1" stroke="#ee44ee" stroke-opacity="0.24" stroke-width="1.4"/>
<g filter="url(#heatvd50)"><path d="M345.40,34.07 C345.66,33.66 346.65,33.58 347.40,33.31 C348.15,33.04 349.00,32.66 349.92,32.44 C350.84,32.22 352.06,32.24 352.92,31.99 C353.78,31.74 354.43,31.39 355.08,30.92 C355.74,30.45 356.14,29.58 356.84,29.19 C357.54,28.80 358.47,28.52 359.27,28.58 C360.08,28.65 360.57,29.42 361.66,29.57 C362.75,29.72 364.42,29.65 365.82,29.46 C367.21,29.27 368.61,28.38 370.03,28.43 C371.45,28.47 373.26,29.35 374.36,29.73 C375.45,30.10 376.25,30.17 376.59,30.67 C376.94,31.18 376.38,31.99 376.42,32.75 C376.46,33.51 376.90,34.38 376.84,35.22 C376.77,36.06 376.19,36.87 376.03,37.79 C375.87,38.71 376.15,39.81 375.90,40.73 C375.65,41.66 374.92,42.46 374.52,43.36 C374.13,44.25 373.71,45.17 373.52,46.11 C373.33,47.05 373.53,48.06 373.38,49.00 C373.22,49.94 372.74,50.82 372.57,51.74 C372.41,52.66 372.30,53.59 372.37,54.53 C372.44,55.47 373.11,56.45 373.01,57.39 C372.91,58.32 371.96,59.21 371.77,60.15 C371.58,61.09 371.75,62.09 371.87,63.02 C372.00,63.94 372.28,64.78 372.51,65.69 C372.74,66.61 373.25,67.43 373.26,68.50 C373.26,69.57 372.51,70.95 372.52,72.12 C372.53,73.28 373.28,74.46 373.34,75.50 C373.39,76.54 373.05,77.53 372.86,78.35 C372.67,79.17 372.62,79.70 372.20,80.43 C371.78,81.17 371.06,82.38 370.34,82.77 C369.61,83.16 368.82,82.64 367.85,82.79 C366.88,82.94 365.67,83.60 364.52,83.68 C363.36,83.77 361.97,83.23 360.92,83.28 C359.87,83.33 359.15,83.95 358.20,83.99 C357.25,84.04 356.18,83.58 355.21,83.55 C354.24,83.52 353.27,83.58 352.38,83.82 C351.49,84.05 350.97,84.83 349.90,84.96 C348.82,85.09 347.06,84.80 345.91,84.59 C344.76,84.38 343.60,84.33 343.00,83.69 C342.40,83.05 342.49,81.93 342.33,80.75 C342.17,79.58 341.45,77.47 342.06,76.63 C342.67,75.80 344.80,76.11 345.99,75.73 C347.18,75.35 348.07,74.72 349.22,74.34 C350.37,73.96 351.81,73.86 352.90,73.45 C353.98,73.05 354.81,72.43 355.74,71.93 C356.67,71.42 357.50,70.86 358.46,70.43 C359.42,70.00 360.56,69.78 361.51,69.37 C362.46,68.96 363.33,68.39 364.18,67.98 C365.02,67.58 365.95,67.42 366.59,66.93 C367.24,66.43 367.58,65.69 368.06,65.00 C368.54,64.32 369.17,63.63 369.47,62.84 C369.78,62.05 369.92,61.43 369.90,60.25 C369.87,59.07 369.62,56.87 369.35,55.77 C369.08,54.66 368.70,54.29 368.28,53.62 C367.85,52.96 367.31,52.82 366.81,51.79 C366.32,50.76 365.90,48.42 365.31,47.47 C364.72,46.52 363.98,46.48 363.25,46.10 C362.52,45.72 361.76,45.49 360.93,45.19 C360.10,44.88 359.11,44.68 358.28,44.26 C357.46,43.84 356.78,43.07 355.98,42.67 C355.18,42.27 354.14,42.35 353.48,41.87 C352.83,41.39 352.91,40.55 352.06,39.79 C351.21,39.03 349.41,37.97 348.37,37.30 C347.33,36.62 346.32,36.28 345.83,35.74 C345.33,35.20 345.14,34.47 345.40,34.07 Z" fill="#fff" fill-opacity="0.33"/><path d="M347.70,35.21 C347.74,35.38 347.15,35.53 348.14,35.32 C349.12,35.10 352.03,34.50 353.62,33.92 C355.21,33.35 356.34,32.30 357.68,31.87 C359.03,31.43 360.33,31.28 361.70,31.30 C363.07,31.32 364.49,32.05 365.91,32.00 C367.33,31.95 368.91,31.13 370.23,30.99 C371.56,30.85 373.15,31.06 373.86,31.15 C374.58,31.24 374.39,30.88 374.51,31.51 C374.64,32.15 374.82,33.56 374.62,34.98 C374.41,36.41 373.75,38.27 373.29,40.07 C372.83,41.86 372.30,43.84 371.87,45.74 C371.45,47.64 371.01,49.57 370.73,51.47 C370.45,53.37 370.36,55.23 370.21,57.16 C370.05,59.09 369.77,61.11 369.80,63.05 C369.83,65.00 370.20,66.74 370.42,68.81 C370.63,70.88 371.07,73.66 371.10,75.50 C371.13,77.34 370.83,78.96 370.62,79.86 C370.42,80.76 371.52,80.64 369.89,80.91 C368.25,81.19 364.12,81.29 360.80,81.51 C357.48,81.72 352.74,82.22 349.97,82.20 C347.19,82.18 345.19,81.67 344.17,81.38 C343.15,81.09 343.90,81.03 343.85,80.48 C343.80,79.92 343.41,78.51 343.87,78.04 C344.33,77.57 344.97,78.09 346.60,77.66 C348.24,77.24 351.54,76.34 353.69,75.49 C355.85,74.65 357.60,73.54 359.53,72.59 C361.46,71.63 363.58,70.84 365.26,69.76 C366.95,68.68 368.60,67.67 369.66,66.12 C370.71,64.57 371.40,62.24 371.59,60.45 C371.78,58.66 371.20,57.00 370.81,55.36 C370.42,53.73 369.97,52.19 369.23,50.66 C368.49,49.12 367.64,47.31 366.39,46.16 C365.14,45.00 363.28,44.60 361.71,43.75 C360.14,42.90 358.42,41.95 356.98,41.05 C355.55,40.16 354.29,39.28 353.08,38.38 C351.86,37.49 350.56,36.35 349.69,35.67 C348.83,34.99 348.21,34.39 347.88,34.31 C347.54,34.23 347.66,35.04 347.70,35.21 Z" fill="#fff" fill-opacity="0.3" filter="url(#b2_4)"/><path d="M351.36,33.47 C352.33,32.93 354.86,31.80 357.31,31.48 C359.76,31.15 363.35,31.59 366.06,31.50 C368.76,31.41 372.13,30.81 373.54,30.95 C374.95,31.08 374.50,31.09 374.52,32.30 C374.55,33.50 374.16,36.89 373.68,38.18 C373.19,39.47 373.01,39.89 371.63,40.04 C370.24,40.18 367.87,39.52 365.37,39.03 C362.87,38.55 358.94,37.83 356.63,37.10 C354.32,36.38 352.40,35.30 351.52,34.70 C350.64,34.09 350.40,34.00 351.36,33.47 Z" fill="#fff" fill-opacity="0.36" filter="url(#b1_8)"/><ellipse cx="360.3" cy="35.3" rx="2.8" ry="2.8" fill="#fff" fill-opacity="0.88" filter="url(#b1_4)"/><ellipse cx="368.6" cy="36.6" rx="2.8" ry="2.8" fill="#fff" fill-opacity="0.88" filter="url(#b1_4)"/><ellipse cx="370" cy="46.4" rx="2.2" ry="6" fill="#fff" fill-opacity="0.55" filter="url(#b1_5)"/><path d="M344.89,78.79 C346.33,78.22 349.66,76.80 352.58,75.91 C355.51,75.02 359.61,74.11 362.43,73.45 C365.26,72.79 368.12,71.77 369.56,71.95 C371.00,72.13 370.79,73.17 371.07,74.53 C371.35,75.88 371.79,78.90 371.23,80.07 C370.68,81.23 371.27,81.19 367.74,81.52 C364.21,81.84 353.99,82.04 350.04,82.00 C346.09,81.96 345.07,81.75 344.06,81.30 C343.05,80.86 343.83,79.75 343.97,79.33 C344.11,78.91 343.46,79.36 344.89,78.79 Z" fill="#fff" fill-opacity="0.28" filter="url(#b1_8)"/><ellipse cx="358" cy="79.2" rx="11" ry="2.5" fill="#fff" fill-opacity="0.9" filter="url(#b1_5)"/></g>
<line x1="349.2" y1="24.0" x2="349.2" y2="87.4" stroke="#ee44ee" stroke-opacity="0.13" stroke-width="1.2"/>
<line x1="335.2" y1="56.1" x2="383.7" y2="56.1" stroke="#ee44ee" stroke-opacity="0.13" stroke-width="1.2"/>
<line x1="425.5" y1="24.0" x2="425.5" y2="87.0" stroke="#ee44ee" stroke-opacity="0.24" stroke-width="1.4"/>
<line x1="411.7" y1="55.8" x2="463.1" y2="55.8" stroke="#ee44ee" stroke-opacity="0.24" stroke-width="1.4"/>
<g filter="url(#heatvd80)"><path d="M416.93,33.53 C416.97,32.61 417.20,31.18 417.87,30.58 C418.53,29.98 419.89,29.94 420.90,29.95 C421.92,29.97 423.10,30.32 423.96,30.68 C424.82,31.04 425.25,31.81 426.06,32.11 C426.87,32.42 427.74,32.37 428.81,32.52 C429.87,32.66 431.43,32.94 432.46,32.98 C433.49,33.03 434.12,32.82 435.00,32.78 C435.87,32.73 436.85,32.85 437.69,32.69 C438.52,32.53 439.17,31.97 440.03,31.81 C440.88,31.65 441.96,31.89 442.81,31.73 C443.66,31.58 444.32,31.08 445.14,30.89 C445.95,30.69 446.87,30.60 447.71,30.56 C448.55,30.53 449.20,30.32 450.20,30.66 C451.20,30.99 452.97,31.56 453.72,32.59 C454.47,33.61 454.31,35.89 454.68,36.79 C455.05,37.69 455.90,37.62 455.94,38.01 C455.98,38.40 455.51,38.45 454.93,39.14 C454.35,39.84 453.28,41.28 452.48,42.19 C451.68,43.11 451.24,44.35 450.14,44.63 C449.03,44.92 447.09,44.42 445.87,43.89 C444.65,43.37 443.75,41.99 442.83,41.48 C441.91,40.96 441.25,41.00 440.36,40.80 C439.48,40.61 438.52,40.43 437.52,40.31 C436.52,40.19 435.43,39.99 434.37,40.10 C433.30,40.21 432.09,41.05 431.14,40.98 C430.19,40.92 429.46,40.07 428.66,39.72 C427.86,39.38 427.12,39.17 426.33,38.91 C425.55,38.66 424.75,38.39 423.96,38.18 C423.18,37.97 422.69,38.02 421.63,37.68 C420.57,37.33 418.40,36.82 417.61,36.13 C416.83,35.44 416.89,34.46 416.93,33.53 Z" fill="#fff" fill-opacity="0.33"/><ellipse cx="421" cy="33.7" rx="4.4" ry="4.3" fill="#fff" fill-opacity="0.33"/><path d="M418.99,33.74 C419.10,33.30 419.11,32.53 419.43,32.21 C419.74,31.89 420.31,31.73 420.90,31.80 C421.49,31.87 422.17,32.20 422.96,32.63 C423.75,33.06 424.05,34.13 425.64,34.37 C427.23,34.62 430.06,34.18 432.49,34.10 C434.92,34.02 438.09,34.09 440.24,33.89 C442.38,33.69 443.77,33.06 445.34,32.89 C446.92,32.71 448.53,32.65 449.68,32.84 C450.83,33.04 451.56,33.32 452.23,34.07 C452.91,34.81 453.31,36.67 453.72,37.32 C454.13,37.98 454.67,37.82 454.70,38.00 C454.73,38.18 454.43,37.84 453.91,38.38 C453.40,38.92 452.32,40.54 451.63,41.24 C450.94,41.93 450.63,42.40 449.78,42.54 C448.92,42.67 447.58,42.45 446.50,42.03 C445.42,41.61 444.77,40.52 443.30,40.03 C441.83,39.54 439.63,39.33 437.66,39.11 C435.69,38.90 433.28,38.99 431.47,38.73 C429.66,38.46 428.31,38.04 426.79,37.53 C425.27,37.01 423.68,36.10 422.35,35.65 C421.01,35.20 419.33,35.16 418.77,34.84 C418.21,34.52 418.88,34.18 418.99,33.74 Z" fill="#fff" fill-opacity="0.3" filter="url(#b2_2)"/><ellipse cx="420.3" cy="33.5" rx="2.5" ry="2.2" fill="#fff" fill-opacity="0.12" filter="url(#b1_5)"/><path d="M426.73,34.86 C428.83,34.49 436.28,34.72 440.12,34.50 C443.97,34.27 447.68,33.39 449.79,33.49 C451.91,33.59 452.28,34.31 452.84,35.11 C453.39,35.91 453.52,37.29 453.14,38.28 C452.76,39.27 452.03,40.84 450.56,41.05 C449.09,41.26 447.34,40.03 444.31,39.52 C441.28,39.02 435.18,38.51 432.38,38.04 C429.58,37.57 428.46,37.23 427.52,36.70 C426.58,36.17 424.63,35.23 426.73,34.86 Z" fill="#fff" fill-opacity="0.34" filter="url(#b1_8)"/><ellipse cx="440" cy="36.5" rx="9" ry="1.8" fill="#fff" fill-opacity="0.55" filter="url(#b1_5)"/><ellipse cx="447.6" cy="36.8" rx="3.5" ry="2.5" fill="#fff" fill-opacity="0.85" filter="url(#b1_4)"/><path d="M418.04,79.55 C418.43,78.64 418.80,77.15 419.76,76.35 C420.71,75.56 422.76,75.05 423.79,74.78 C424.81,74.51 425.14,74.81 425.91,74.73 C426.69,74.65 427.57,74.35 428.45,74.30 C429.33,74.24 430.26,74.61 431.20,74.39 C432.14,74.16 433.09,73.11 434.11,72.93 C435.13,72.75 436.29,73.19 437.30,73.32 C438.32,73.45 439.20,73.82 440.20,73.71 C441.20,73.60 442.35,72.88 443.30,72.67 C444.25,72.46 444.75,72.72 445.89,72.45 C447.03,72.18 449.09,70.90 450.11,71.04 C451.14,71.19 451.56,72.26 452.02,73.32 C452.47,74.38 452.87,76.03 452.85,77.40 C452.84,78.77 452.40,80.61 451.92,81.53 C451.45,82.45 450.76,82.51 450.01,82.92 C449.26,83.33 448.47,83.82 447.44,83.98 C446.41,84.14 445.09,83.89 443.84,83.88 C442.60,83.87 441.15,84.04 439.99,83.91 C438.82,83.77 437.95,83.17 436.87,83.07 C435.79,82.97 434.61,83.12 433.49,83.30 C432.38,83.48 431.21,84.15 430.18,84.13 C429.16,84.11 428.33,83.21 427.34,83.18 C426.34,83.16 425.13,84.00 424.20,83.99 C423.26,83.98 422.48,83.23 421.71,83.14 C420.93,83.06 420.29,83.71 419.57,83.49 C418.85,83.28 417.64,82.50 417.39,81.85 C417.13,81.19 417.64,80.47 418.04,79.55 Z" fill="#fff" fill-opacity="0.33"/><path d="M419.52,79.94 C419.71,79.39 419.91,78.02 420.66,77.37 C421.41,76.72 422.23,76.36 424.01,76.05 C425.78,75.74 428.58,75.70 431.30,75.49 C434.02,75.28 437.86,75.10 440.32,74.78 C442.78,74.46 444.53,73.83 446.06,73.57 C447.60,73.31 448.82,73.13 449.55,73.21 C450.27,73.29 450.23,73.36 450.44,74.06 C450.65,74.76 450.80,76.28 450.80,77.40 C450.80,78.52 450.63,80.15 450.45,80.81 C450.27,81.47 451.47,81.17 449.72,81.35 C447.96,81.53 443.66,81.81 439.93,81.90 C436.21,81.99 430.66,81.99 427.37,81.90 C424.09,81.81 421.52,81.58 420.21,81.37 C418.89,81.17 419.60,80.92 419.49,80.69 C419.37,80.45 419.32,80.49 419.52,79.94 Z" fill="#fff" fill-opacity="0.3" filter="url(#b2_2)"/><path d="M421.05,78.70 C422.60,78.16 426.29,77.09 430.32,76.47 C434.34,75.86 441.94,75.38 445.19,74.99 C448.44,74.60 449.03,73.66 449.84,74.13 C450.64,74.60 450.11,76.71 450.01,77.80 C449.91,78.89 450.91,80.12 449.23,80.65 C447.56,81.19 443.97,80.94 439.96,81.00 C435.95,81.06 428.35,81.22 425.19,81.01 C422.04,80.80 421.73,80.10 421.04,79.72 C420.35,79.33 419.51,79.24 421.05,78.70 Z" fill="#fff" fill-opacity="0.26" filter="url(#b1_8)"/><ellipse cx="437" cy="78.6" rx="11.5" ry="2.3" fill="#fff" fill-opacity="0.9" filter="url(#b1_5)"/></g>
<line x1="425.5" y1="24.0" x2="425.5" y2="87.0" stroke="#ee44ee" stroke-opacity="0.13" stroke-width="1.2"/>
<line x1="411.7" y1="55.8" x2="463.1" y2="55.8" stroke="#ee44ee" stroke-opacity="0.13" stroke-width="1.2"/>
<line x1="272.4" y1="147.1" x2="272.4" y2="217.8" stroke="#ee44ee" stroke-opacity="0.24" stroke-width="1.4"/>
<line x1="255.4" y1="186.2" x2="303.2" y2="186.2" stroke="#ee44ee" stroke-opacity="0.24" stroke-width="1.4"/>
<g filter="url(#heathd20)"><path d="M261.86,155.68 C262.51,154.79 263.52,153.88 264.28,153.30 C265.04,152.73 265.55,152.54 266.43,152.25 C267.31,151.96 268.58,151.77 269.55,151.56 C270.51,151.36 271.26,150.96 272.21,151.01 C273.16,151.05 274.27,151.74 275.25,151.83 C276.23,151.92 277.01,151.51 278.08,151.56 C279.15,151.61 280.47,152.04 281.65,152.13 C282.83,152.22 284.19,151.90 285.16,152.11 C286.14,152.31 286.66,153.11 287.51,153.36 C288.36,153.61 289.49,153.33 290.26,153.62 C291.04,153.92 291.18,154.64 292.17,155.14 C293.15,155.65 295.13,155.91 296.18,156.66 C297.22,157.41 298.05,158.70 298.43,159.64 C298.82,160.58 298.54,161.42 298.47,162.32 C298.41,163.22 298.13,164.19 298.06,165.04 C297.99,165.89 298.28,166.70 298.07,167.42 C297.86,168.13 297.17,168.67 296.77,169.32 C296.37,169.97 295.85,170.56 295.68,171.31 C295.50,172.06 295.92,172.93 295.74,173.80 C295.56,174.67 294.82,175.57 294.60,176.53 C294.39,177.49 294.57,178.58 294.45,179.57 C294.32,180.55 293.91,181.46 293.86,182.43 C293.80,183.41 294.14,184.44 294.14,185.41 C294.14,186.37 294.15,187.31 293.86,188.22 C293.57,189.13 292.65,189.92 292.38,190.89 C292.12,191.86 292.19,192.97 292.29,194.05 C292.39,195.13 292.69,196.22 292.98,197.36 C293.27,198.51 293.80,199.72 294.04,200.93 C294.28,202.14 294.45,203.40 294.42,204.61 C294.39,205.81 293.95,207.08 293.86,208.15 C293.77,209.23 294.35,210.56 293.89,211.07 C293.44,211.58 292.09,211.02 291.15,211.21 C290.20,211.40 289.38,211.86 288.22,212.21 C287.05,212.56 285.26,213.18 284.15,213.32 C283.04,213.47 282.44,212.98 281.54,213.09 C280.65,213.19 279.74,213.88 278.78,213.96 C277.82,214.04 276.73,213.59 275.80,213.57 C274.86,213.55 274.16,213.70 273.15,213.83 C272.14,213.96 270.84,214.34 269.74,214.35 C268.63,214.36 267.46,214.04 266.51,213.89 C265.57,213.74 264.89,213.78 264.06,213.46 C263.22,213.13 261.94,212.64 261.52,211.92 C261.11,211.19 261.63,210.17 261.56,209.11 C261.50,208.05 260.60,206.67 261.12,205.58 C261.64,204.49 263.68,203.11 264.68,202.58 C265.68,202.06 266.24,202.55 267.11,202.41 C267.98,202.27 268.97,201.85 269.89,201.77 C270.81,201.69 271.60,202.08 272.63,201.92 C273.66,201.76 274.90,200.94 276.06,200.81 C277.21,200.68 278.52,201.42 279.56,201.15 C280.61,200.87 281.52,199.89 282.32,199.16 C283.12,198.43 283.63,197.50 284.37,196.80 C285.12,196.10 286.25,195.67 286.78,194.95 C287.32,194.23 287.39,193.34 287.57,192.47 C287.75,191.59 287.84,190.51 287.87,189.69 C287.90,188.86 288.00,188.24 287.75,187.52 C287.50,186.80 286.81,186.11 286.36,185.37 C285.92,184.64 285.44,183.95 285.09,183.11 C284.75,182.28 284.69,181.17 284.29,180.37 C283.89,179.57 283.33,178.94 282.68,178.33 C282.03,177.72 280.91,177.48 280.38,176.71 C279.86,175.95 280.14,174.47 279.54,173.75 C278.94,173.04 277.66,172.93 276.78,172.41 C275.91,171.88 275.14,171.26 274.28,170.60 C273.42,169.94 272.59,169.11 271.62,168.44 C270.65,167.77 269.48,167.20 268.44,166.59 C267.41,165.98 266.31,165.33 265.41,164.77 C264.52,164.22 263.77,163.73 263.08,163.25 C262.39,162.76 261.75,162.64 261.30,161.88 C260.85,161.12 260.28,159.73 260.38,158.69 C260.47,157.66 261.21,156.58 261.86,155.68 Z" fill="#fff" fill-opacity="0.33"/><path d="M263.42,156.55 C263.73,155.92 263.89,155.34 264.95,154.93 C266.01,154.51 267.61,154.27 269.79,154.09 C271.97,153.90 275.55,153.74 278.02,153.80 C280.50,153.86 282.40,153.93 284.65,154.43 C286.91,154.93 289.84,156.20 291.56,156.81 C293.28,157.42 294.19,157.53 294.96,158.09 C295.73,158.65 295.98,159.07 296.18,160.18 C296.37,161.30 296.37,163.35 296.13,164.76 C295.90,166.17 295.23,167.23 294.75,168.65 C294.28,170.07 293.63,171.51 293.26,173.29 C292.89,175.07 292.78,177.36 292.52,179.32 C292.27,181.27 292.06,183.10 291.74,185.00 C291.42,186.91 290.78,188.65 290.61,190.75 C290.44,192.84 290.51,195.23 290.71,197.56 C290.91,199.90 291.65,202.67 291.80,204.75 C291.96,206.83 291.80,209.23 291.63,210.06 C291.46,210.88 292.09,209.57 290.79,209.69 C289.48,209.80 286.73,210.31 283.78,210.73 C280.83,211.15 276.31,212.06 273.08,212.20 C269.85,212.34 266.08,211.77 264.40,211.56 C262.72,211.35 263.21,211.32 262.99,210.93 C262.77,210.53 263.00,209.85 263.09,209.21 C263.18,208.57 263.12,207.83 263.54,207.10 C263.96,206.36 264.03,205.31 265.59,204.79 C267.16,204.27 270.50,204.32 272.93,203.97 C275.35,203.62 277.93,203.58 280.16,202.71 C282.38,201.84 284.67,200.29 286.28,198.76 C287.89,197.23 289.10,195.08 289.80,193.51 C290.50,191.94 290.64,190.91 290.47,189.36 C290.30,187.80 289.58,185.82 288.79,184.17 C287.99,182.52 286.71,180.97 285.70,179.44 C284.68,177.91 283.89,176.54 282.69,174.99 C281.50,173.44 280.22,171.44 278.52,170.12 C276.82,168.80 274.44,168.29 272.50,167.06 C270.55,165.84 268.41,163.87 266.86,162.77 C265.30,161.67 263.80,161.15 263.18,160.47 C262.55,159.79 263.06,159.35 263.10,158.70 C263.14,158.05 263.12,157.18 263.42,156.55 Z" fill="#fff" fill-opacity="0.3" filter="url(#b2_4)"/><path d="M268.55,154.92 C270.53,154.68 276.36,153.67 279.82,153.99 C283.28,154.32 286.81,156.02 289.32,156.88 C291.82,157.74 293.91,157.86 294.86,159.15 C295.82,160.43 295.44,163.00 295.04,164.59 C294.65,166.18 293.11,167.79 292.48,168.70 C291.85,169.60 292.16,170.25 291.25,170.02 C290.34,169.78 288.89,168.40 287.01,167.27 C285.13,166.15 282.63,164.74 279.98,163.26 C277.34,161.77 273.15,159.66 271.14,158.36 C269.13,157.05 268.35,156.02 267.92,155.45 C267.49,154.88 266.57,155.17 268.55,154.92 Z" fill="#fff" fill-opacity="0.4" filter="url(#b2_0)"/><ellipse cx="288" cy="164" rx="7" ry="3.3" fill="#fff" fill-opacity="0.8" filter="url(#b1_6)" transform="rotate(20 288 164)"/><ellipse cx="289.7" cy="177" rx="2.5" ry="3.5" fill="#fff" fill-opacity="0.55" filter="url(#b1_5)"/><ellipse cx="265" cy="158" rx="3" ry="3" fill="#fff" fill-opacity="0.15" filter="url(#b1_5)"/><path d="M263.96,205.75 C265.34,205.17 269.19,204.86 272.26,204.48 C275.33,204.10 279.50,204.05 282.38,203.46 C285.26,202.87 288.18,200.80 289.54,200.95 C290.89,201.09 290.35,202.89 290.53,204.33 C290.70,205.77 291.72,208.55 290.59,209.59 C289.46,210.62 286.85,210.20 283.75,210.52 C280.65,210.83 275.30,211.46 272.00,211.50 C268.70,211.54 265.30,211.33 263.96,210.75 C262.63,210.16 264.00,208.83 264.00,208.00 C264.00,207.17 262.59,206.34 263.96,205.75 Z" fill="#fff" fill-opacity="0.24" filter="url(#b1_8)"/><ellipse cx="277" cy="208.2" rx="10.5" ry="2.6" fill="#fff" fill-opacity="0.9" filter="url(#b1_5)"/></g>
<line x1="272.4" y1="147.1" x2="272.4" y2="217.8" stroke="#ee44ee" stroke-opacity="0.13" stroke-width="1.2"/>
<line x1="255.4" y1="186.2" x2="303.2" y2="186.2" stroke="#ee44ee" stroke-opacity="0.13" stroke-width="1.2"/>
<line x1="356.4" y1="143.8" x2="356.4" y2="216.2" stroke="#ee44ee" stroke-opacity="0.24" stroke-width="1.4"/>
<line x1="333.6" y1="188.2" x2="382.0" y2="188.2" stroke="#ee44ee" stroke-opacity="0.24" stroke-width="1.4"/>
<g filter="url(#heathd50)"><path d="M344.34,150.64 C344.59,149.94 345.19,148.49 346.26,147.96 C347.34,147.44 349.61,147.72 350.80,147.51 C351.99,147.29 352.55,146.66 353.40,146.70 C354.25,146.73 354.81,147.26 355.88,147.72 C356.95,148.19 358.60,149.12 359.82,149.48 C361.03,149.85 362.04,149.60 363.19,149.90 C364.34,150.20 365.51,151.04 366.72,151.29 C367.93,151.54 369.31,151.17 370.46,151.40 C371.61,151.64 372.63,152.44 373.61,152.68 C374.60,152.92 375.54,152.66 376.34,152.85 C377.15,153.05 377.94,153.17 378.44,153.85 C378.93,154.53 379.42,155.74 379.31,156.94 C379.20,158.13 378.18,159.96 377.78,161.03 C377.37,162.11 377.33,162.70 376.88,163.39 C376.42,164.09 375.58,164.51 375.03,165.21 C374.48,165.91 374.00,166.73 373.57,167.60 C373.13,168.47 372.65,169.43 372.42,170.45 C372.18,171.47 372.29,172.67 372.16,173.73 C372.04,174.79 372.00,175.95 371.67,176.82 C371.34,177.70 370.33,178.20 370.16,178.99 C369.99,179.78 371.01,180.54 370.64,181.56 C370.27,182.58 368.41,183.83 367.96,185.11 C367.50,186.40 367.91,188.07 367.90,189.26 C367.89,190.44 367.91,191.20 367.90,192.24 C367.89,193.28 367.89,194.44 367.84,195.49 C367.78,196.54 367.74,197.53 367.57,198.54 C367.41,199.55 366.85,200.53 366.86,201.57 C366.87,202.60 367.65,203.74 367.64,204.76 C367.64,205.77 367.04,206.77 366.80,207.64 C366.56,208.50 366.39,209.20 366.19,209.94 C365.98,210.67 366.29,211.27 365.58,212.06 C364.87,212.86 362.96,214.00 361.93,214.72 C360.91,215.43 360.39,216.00 359.43,216.35 C358.46,216.70 357.09,216.81 356.13,216.82 C355.16,216.82 354.45,216.66 353.62,216.39 C352.79,216.12 351.98,215.46 351.15,215.20 C350.31,214.94 349.58,215.09 348.62,214.84 C347.65,214.58 346.33,214.19 345.35,213.66 C344.37,213.13 343.60,212.29 342.73,211.65 C341.86,211.01 340.91,210.49 340.13,209.81 C339.35,209.13 338.44,208.46 338.06,207.55 C337.67,206.64 337.92,205.35 337.83,204.36 C337.73,203.38 337.47,202.67 337.48,201.63 C337.48,200.60 337.31,198.95 337.86,198.17 C338.40,197.39 339.70,197.40 340.74,196.95 C341.78,196.50 343.11,195.78 344.10,195.48 C345.10,195.18 345.84,195.35 346.71,195.14 C347.58,194.93 348.49,194.60 349.31,194.22 C350.14,193.84 350.62,193.13 351.67,192.88 C352.71,192.62 354.55,193.11 355.59,192.69 C356.62,192.26 357.24,191.00 357.86,190.32 C358.47,189.63 358.86,189.20 359.26,188.60 C359.66,188.00 359.96,187.48 360.25,186.70 C360.54,185.92 360.92,185.06 361.01,183.94 C361.10,182.82 360.96,181.03 360.78,179.99 C360.60,178.95 359.97,178.52 359.92,177.72 C359.88,176.93 360.50,176.02 360.52,175.22 C360.54,174.42 360.23,173.66 360.02,172.92 C359.82,172.18 359.29,171.49 359.30,170.77 C359.32,170.05 360.03,169.37 360.10,168.60 C360.18,167.84 359.75,167.01 359.74,166.19 C359.73,165.37 360.12,164.51 360.05,163.69 C359.97,162.87 359.58,162.04 359.28,161.28 C358.97,160.52 358.63,159.79 358.19,159.11 C357.76,158.44 357.12,157.92 356.68,157.25 C356.25,156.57 356.05,155.71 355.56,155.07 C355.06,154.42 354.48,153.72 353.72,153.38 C352.97,153.03 351.86,153.21 351.02,152.99 C350.17,152.78 349.70,152.24 348.66,152.10 C347.62,151.97 345.49,152.42 344.77,152.18 C344.05,151.93 344.09,151.35 344.34,150.64 Z" fill="#fff" fill-opacity="0.33"/><path d="M346.65,151.43 C346.91,151.53 346.89,150.62 347.60,150.30 C348.32,149.97 349.65,149.57 350.94,149.49 C352.23,149.41 354.00,149.43 355.35,149.80 C356.70,150.18 357.24,151.14 359.05,151.75 C360.87,152.35 363.91,152.90 366.24,153.43 C368.57,153.95 371.29,154.48 373.03,154.90 C374.76,155.32 375.98,155.60 376.64,155.95 C377.30,156.31 377.07,156.35 377.00,157.05 C376.94,157.75 376.97,159.02 376.26,160.17 C375.56,161.32 373.67,162.30 372.78,163.95 C371.88,165.59 371.46,167.98 370.90,170.03 C370.34,172.07 369.90,174.44 369.41,176.20 C368.92,177.95 368.49,179.17 367.98,180.57 C367.47,181.97 366.76,183.21 366.34,184.61 C365.91,186.01 365.62,187.17 365.42,188.97 C365.21,190.78 365.15,193.34 365.10,195.43 C365.05,197.52 365.16,199.53 365.10,201.50 C365.04,203.47 364.99,205.72 364.75,207.25 C364.51,208.78 364.26,209.76 363.64,210.68 C363.03,211.60 362.30,212.22 361.05,212.77 C359.79,213.33 358.05,214.02 356.10,214.00 C354.15,213.98 351.37,213.33 349.34,212.65 C347.32,211.98 345.46,211.00 343.94,209.96 C342.42,208.91 341.00,207.77 340.24,206.38 C339.49,204.99 339.50,202.66 339.40,201.60 C339.30,200.54 338.73,200.68 339.65,199.99 C340.56,199.31 342.75,198.29 344.89,197.50 C347.02,196.71 349.99,196.09 352.44,195.25 C354.89,194.40 358.01,193.73 359.58,192.44 C361.16,191.15 361.22,188.86 361.90,187.51 C362.58,186.15 363.50,185.59 363.67,184.29 C363.85,182.99 363.17,181.25 362.97,179.68 C362.77,178.11 362.72,176.39 362.46,174.89 C362.19,173.39 361.44,172.15 361.40,170.70 C361.36,169.25 362.23,167.89 362.20,166.20 C362.17,164.51 361.84,162.29 361.22,160.57 C360.60,158.85 359.59,157.29 358.48,155.87 C357.36,154.44 356.09,152.97 354.54,152.02 C352.99,151.08 350.60,150.60 349.19,150.21 C347.78,149.82 346.50,149.48 346.08,149.69 C345.65,149.89 346.40,151.33 346.65,151.43 Z" fill="#fff" fill-opacity="0.22" filter="url(#b2_4)"/><ellipse cx="350.5" cy="150" rx="3.5" ry="2.2" fill="#fff" fill-opacity="0.35" filter="url(#b1_3)"/><path d="M360.89,152.79 C361.83,152.51 365.23,153.38 367.57,153.95 C369.92,154.52 373.56,155.58 374.97,156.21 C376.38,156.85 376.31,156.78 376.01,157.77 C375.72,158.75 374.20,160.17 373.21,162.11 C372.23,164.04 370.90,166.92 370.10,169.37 C369.30,171.82 368.83,175.58 368.40,176.80 C367.97,178.02 368.08,177.90 367.51,176.68 C366.93,175.47 365.53,172.03 364.94,169.51 C364.35,167.00 364.45,163.89 363.96,161.58 C363.46,159.27 362.48,157.11 361.97,155.64 C361.46,154.18 359.96,153.07 360.89,152.79 Z" fill="#fff" fill-opacity="0.16" filter="url(#b1_8)"/><ellipse cx="368.4" cy="155.2" rx="6" ry="2.4" fill="#fff" fill-opacity="0.6" filter="url(#b1_5)" transform="rotate(18 368.4 155.2)"/><ellipse cx="368.4" cy="167.7" rx="2.8" ry="1.8" fill="#fff" fill-opacity="0.65" filter="url(#b1_3)"/><ellipse cx="370" cy="162.3" rx="2" ry="1.8" fill="#fff" fill-opacity="0.4" filter="url(#b1_3)"/><ellipse cx="367.7" cy="174.7" rx="2.4" ry="2.4" fill="#fff" fill-opacity="0.45" filter="url(#b1_3)"/><ellipse cx="364.6" cy="185.5" rx="2.2" ry="2.2" fill="#fff" fill-opacity="0.35" filter="url(#b1_3)"/><path d="M342.19,199.61 C343.86,198.51 347.58,197.27 350.56,196.42 C353.54,195.57 357.78,194.74 360.06,194.50 C362.35,194.26 363.52,193.42 364.26,194.98 C365.00,196.55 364.64,201.42 364.50,203.88 C364.36,206.35 364.56,208.25 363.42,209.78 C362.28,211.30 360.13,212.65 357.65,213.03 C355.18,213.41 351.09,212.80 348.56,212.08 C346.04,211.36 343.86,210.21 342.51,208.69 C341.17,207.18 340.55,204.51 340.50,203.00 C340.45,201.49 340.51,200.70 342.19,199.61 Z" fill="#fff" fill-opacity="0.28" filter="url(#b2_0)"/><ellipse cx="353.5" cy="204" rx="8.5" ry="6.5" fill="#fff" fill-opacity="0.9" filter="url(#b1_8)"/></g>
<line x1="356.4" y1="143.8" x2="356.4" y2="216.2" stroke="#ee44ee" stroke-opacity="0.13" stroke-width="1.2"/>
<line x1="333.6" y1="188.2" x2="382.0" y2="188.2" stroke="#ee44ee" stroke-opacity="0.13" stroke-width="1.2"/>
<line x1="435.2" y1="149.0" x2="435.2" y2="217.0" stroke="#ee44ee" stroke-opacity="0.24" stroke-width="1.4"/>
<line x1="413.1" y1="188.2" x2="460.4" y2="188.2" stroke="#ee44ee" stroke-opacity="0.24" stroke-width="1.4"/>
<g filter="url(#heathd80)"><path d="M423.22,158.73 C423.36,157.81 424.88,156.30 425.54,155.15 C426.20,153.99 426.41,152.27 427.19,151.80 C427.97,151.33 429.15,152.33 430.24,152.32 C431.32,152.31 432.55,151.69 433.69,151.72 C434.83,151.75 435.94,152.07 437.08,152.51 C438.23,152.95 439.45,154.11 440.57,154.36 C441.68,154.61 442.74,153.82 443.76,153.99 C444.79,154.15 445.79,155.06 446.73,155.36 C447.67,155.67 448.28,155.51 449.40,155.81 C450.52,156.12 452.62,156.56 453.44,157.17 C454.26,157.79 454.29,158.42 454.31,159.50 C454.33,160.58 454.19,162.53 453.56,163.65 C452.94,164.76 450.99,165.35 450.55,166.18 C450.12,167.01 450.96,167.81 450.96,168.62 C450.97,169.42 450.53,170.13 450.57,170.99 C450.61,171.85 451.10,172.81 451.21,173.77 C451.31,174.74 451.26,175.78 451.23,176.78 C451.20,177.78 451.23,178.94 451.02,179.77 C450.81,180.60 450.69,181.08 449.96,181.73 C449.23,182.38 447.68,183.29 446.65,183.67 C445.61,184.05 444.70,184.07 443.77,183.99 C442.83,183.92 441.78,183.88 441.01,183.25 C440.25,182.61 439.85,180.94 439.18,180.19 C438.51,179.44 437.45,179.41 437.02,178.74 C436.58,178.08 437.15,176.96 436.56,176.20 C435.96,175.44 434.12,174.78 433.45,174.16 C432.78,173.54 432.56,172.91 432.52,172.47 C432.48,172.03 432.47,171.66 433.22,171.53 C433.96,171.40 435.96,172.09 436.99,171.69 C438.02,171.30 438.99,170.11 439.41,169.17 C439.82,168.23 440.03,166.95 439.49,166.08 C438.96,165.20 437.20,164.26 436.21,163.90 C435.22,163.55 434.46,163.89 433.57,163.94 C432.67,163.99 432.02,164.37 430.85,164.21 C429.69,164.04 427.61,163.52 426.58,162.93 C425.55,162.34 425.24,161.37 424.68,160.67 C424.12,159.97 423.07,159.65 423.22,158.73 Z" fill="#fff" fill-opacity="0.33"/><path d="M425.29,158.94 C425.44,158.23 425.99,156.55 426.43,155.70 C426.87,154.86 426.77,154.17 427.94,153.89 C429.11,153.60 431.38,153.75 433.45,153.99 C435.51,154.23 437.77,154.75 440.35,155.34 C442.93,155.92 446.92,156.97 448.92,157.50 C450.91,158.04 451.72,158.22 452.34,158.55 C452.95,158.88 452.72,158.80 452.60,159.50 C452.48,160.20 452.18,161.69 451.64,162.73 C451.10,163.78 449.90,164.39 449.38,165.77 C448.86,167.14 448.53,169.16 448.50,171.00 C448.47,172.84 449.13,175.10 449.20,176.80 C449.27,178.50 449.38,180.38 448.92,181.21 C448.46,182.05 447.62,181.79 446.43,181.81 C445.24,181.84 442.83,181.72 441.76,181.35 C440.69,180.99 440.67,180.63 440.01,179.61 C439.35,178.60 438.66,176.41 437.78,175.28 C436.91,174.15 435.40,173.29 434.77,172.83 C434.14,172.37 434.16,172.41 434.00,172.50 C433.84,172.59 433.25,173.27 433.83,173.36 C434.42,173.45 436.32,173.60 437.50,173.03 C438.68,172.47 440.39,171.28 440.91,169.96 C441.44,168.65 441.39,166.33 440.65,165.13 C439.91,163.94 438.02,163.30 436.47,162.79 C434.92,162.28 432.86,162.40 431.35,162.06 C429.84,161.73 428.41,161.13 427.43,160.78 C426.46,160.44 425.87,160.30 425.51,159.99 C425.16,159.68 425.13,159.66 425.29,158.94 Z" fill="#fff" fill-opacity="0.18" filter="url(#b2_2)"/><path d="M427.86,157.80 C429.47,157.36 434.70,156.40 437.95,156.50 C441.20,156.60 445.23,157.75 447.35,158.39 C449.47,159.03 450.18,159.89 450.68,160.34 C451.19,160.79 452.16,160.90 450.39,161.10 C448.62,161.29 443.36,161.59 440.05,161.50 C436.73,161.41 432.46,160.95 430.50,160.56 C428.55,160.17 428.76,159.62 428.32,159.16 C427.88,158.70 426.26,158.25 427.86,157.80 Z" fill="#fff" fill-opacity="0.32" filter="url(#b1_6)"/><ellipse cx="442.3" cy="160.2" rx="6" ry="1.8" fill="#fff" fill-opacity="0.55" filter="url(#b1_3)"/><ellipse cx="445.2" cy="176" rx="3.5" ry="4.5" fill="#fff" fill-opacity="0.06" filter="url(#b1_8)"/><path d="M416.27,206.04 C416.55,205.31 417.32,204.57 418.04,204.08 C418.77,203.58 419.63,203.20 420.62,203.08 C421.61,202.96 422.99,203.68 423.99,203.36 C424.98,203.03 425.67,201.56 426.60,201.11 C427.53,200.66 428.48,200.86 429.59,200.65 C430.69,200.44 432.09,200.21 433.24,199.84 C434.38,199.46 435.38,198.47 436.46,198.39 C437.53,198.30 438.69,198.58 439.69,199.32 C440.70,200.06 441.33,202.01 442.48,202.83 C443.62,203.66 445.74,203.33 446.57,204.29 C447.40,205.25 447.58,207.29 447.47,208.60 C447.36,209.91 446.50,211.32 445.93,212.15 C445.35,212.97 444.91,213.25 444.03,213.56 C443.16,213.87 441.73,213.73 440.70,214.00 C439.66,214.28 438.89,214.97 437.83,215.19 C436.77,215.42 435.49,215.28 434.32,215.34 C433.15,215.40 431.98,215.65 430.81,215.54 C429.64,215.44 428.46,215.05 427.31,214.74 C426.16,214.43 424.95,213.88 423.89,213.68 C422.84,213.47 421.86,213.79 420.97,213.51 C420.08,213.24 419.26,212.45 418.55,212.04 C417.85,211.63 417.11,211.63 416.74,211.03 C416.37,210.44 416.42,209.30 416.34,208.46 C416.26,207.63 415.98,206.77 416.27,206.04 Z" fill="#fff" fill-opacity="0.33"/><path d="M432.07,197.93 C431.41,197.45 434.96,196.87 436.22,196.28 C437.47,195.69 438.78,194.56 439.59,194.39 C440.40,194.23 440.88,194.75 441.09,195.26 C441.30,195.78 441.00,196.80 440.84,197.46 C440.68,198.12 441.60,199.12 440.14,199.20 C438.67,199.28 432.72,198.42 432.07,197.93 Z" fill="#fff" fill-opacity="0.2"/><path d="M417.83,206.84 C418.02,206.42 417.74,206.17 418.83,205.78 C419.91,205.39 422.45,205.08 424.35,204.49 C426.24,203.89 428.70,202.82 430.19,202.23 C431.69,201.65 431.83,201.21 433.32,200.98 C434.82,200.75 437.80,200.35 439.16,200.85 C440.52,201.36 440.55,203.19 441.48,204.00 C442.41,204.82 444.03,204.96 444.72,205.72 C445.41,206.49 445.55,207.71 445.60,208.60 C445.65,209.49 445.88,210.37 445.02,211.04 C444.17,211.72 442.81,212.26 440.45,212.64 C438.10,213.02 434.06,213.41 430.89,213.30 C427.71,213.20 423.54,212.59 421.41,212.00 C419.28,211.42 418.74,210.40 418.11,209.78 C417.49,209.16 417.73,208.79 417.68,208.30 C417.63,207.81 417.64,207.26 417.83,206.84 Z" fill="#fff" fill-opacity="0.3" filter="url(#b2_2)"/><path d="M420.09,208.68 C421.53,208.02 425.54,206.21 428.51,205.43 C431.47,204.65 435.50,203.89 437.88,204.00 C440.25,204.11 441.68,205.34 442.79,206.09 C443.89,206.84 444.42,207.74 444.50,208.50 C444.58,209.26 445.38,210.05 443.29,210.63 C441.20,211.21 435.58,211.93 431.96,212.00 C428.33,212.07 423.56,211.52 421.55,211.08 C419.54,210.64 420.14,209.77 419.90,209.37 C419.65,208.97 418.65,209.33 420.09,208.68 Z" fill="#fff" fill-opacity="0.26" filter="url(#b1_8)"/><ellipse cx="433.7" cy="208" rx="10" ry="2.6" fill="#fff" fill-opacity="0.9" filter="url(#b1_5)"/></g>
<line x1="435.2" y1="149.0" x2="435.2" y2="217.0" stroke="#ee44ee" stroke-opacity="0.13" stroke-width="1.2"/>
<line x1="413.1" y1="188.2" x2="460.4" y2="188.2" stroke="#ee44ee" stroke-opacity="0.13" stroke-width="1.2"/>
<line x1="169.1" y1="107.4" x2="225.0" y2="107.4" stroke="#dedede" stroke-width="0.9"/>
<line x1="411.1" y1="107.5" x2="466.0" y2="107.5" stroke="#e8e8e8" stroke-width="0.9"/>
<g opacity="0.99">
<text x="197.4" y="123.0" text-anchor="middle" class="pl">Barefoot</text>
<text x="279.2" y="123.0" text-anchor="middle" class="pl">VD20</text>
<text x="359.8" y="122.8" text-anchor="middle" class="pl">VD50</text>
<text x="437.9" y="122.8" text-anchor="middle" class="pl">VD80</text>
<text x="278.7" y="248.6" text-anchor="middle" class="pl">HD20</text>
<text x="359.3" y="248.6" text-anchor="middle" class="pl">HD50</text>
<text x="437.8" y="248.6" text-anchor="middle" class="pl">HD80</text>
</g>
<g opacity="0.99"><text x="136.6" y="14.7" class="pn">(a)</text>
<text x="0.4" y="280.0" class="pn">(b)</text>
<text x="366.5" y="280.0" class="pn">(c)</text></g>
<path d="M61.65,267.8 L279.65,267.8 L279.65,485.65 L61.65,485.65 Z" fill="none" stroke="#000" stroke-width="1.7"/>
<text x="57.05" y="488.85" text-anchor="end" class="tk">0</text>
<line x1="61.65" y1="474.75" x2="64.85" y2="474.75" stroke="#222" stroke-width="0.9"/>
<line x1="61.65" y1="463.85" x2="64.85" y2="463.85" stroke="#222" stroke-width="0.9"/>
<line x1="61.65" y1="452.95" x2="64.85" y2="452.95" stroke="#222" stroke-width="0.9"/>
<line x1="61.65" y1="442.05" x2="66.85" y2="442.05" stroke="#222" stroke-width="0.9"/>
<text x="57.05" y="445.25" text-anchor="end" class="tk">10</text>
<line x1="61.65" y1="431.15" x2="64.85" y2="431.15" stroke="#222" stroke-width="0.9"/>
<line x1="61.65" y1="420.25" x2="64.85" y2="420.25" stroke="#222" stroke-width="0.9"/>
<line x1="61.65" y1="409.35" x2="64.85" y2="409.35" stroke="#222" stroke-width="0.9"/>
<line x1="61.65" y1="398.45" x2="66.85" y2="398.45" stroke="#222" stroke-width="0.9"/>
<text x="57.05" y="401.65" text-anchor="end" class="tk">20</text>
<line x1="61.65" y1="387.55" x2="64.85" y2="387.55" stroke="#222" stroke-width="0.9"/>
<line x1="61.65" y1="376.65" x2="64.85" y2="376.65" stroke="#222" stroke-width="0.9"/>
<line x1="61.65" y1="365.75" x2="64.85" y2="365.75" stroke="#222" stroke-width="0.9"/>
<line x1="61.65" y1="354.85" x2="66.85" y2="354.85" stroke="#222" stroke-width="0.9"/>
<text x="57.05" y="358.05" text-anchor="end" class="tk">30</text>
<line x1="61.65" y1="343.95" x2="64.85" y2="343.95" stroke="#222" stroke-width="0.9"/>
<line x1="61.65" y1="333.05" x2="64.85" y2="333.05" stroke="#222" stroke-width="0.9"/>
<line x1="61.65" y1="322.15" x2="64.85" y2="322.15" stroke="#222" stroke-width="0.9"/>
<line x1="61.65" y1="311.25" x2="66.85" y2="311.25" stroke="#222" stroke-width="0.9"/>
<text x="57.05" y="314.45" text-anchor="end" class="tk">40</text>
<line x1="61.65" y1="300.35" x2="64.85" y2="300.35" stroke="#222" stroke-width="0.9"/>
<line x1="61.65" y1="289.45" x2="64.85" y2="289.45" stroke="#222" stroke-width="0.9"/>
<line x1="61.65" y1="278.55" x2="64.85" y2="278.55" stroke="#222" stroke-width="0.9"/>
<text x="57.05" y="270.85" text-anchor="end" class="tk">50</text>
<line x1="105.25" y1="485.65" x2="105.25" y2="480.45" stroke="#222" stroke-width="0.9"/>
<text x="105.25" y="499.5" text-anchor="middle" class="tk">Q1</text>
<line x1="148.85" y1="485.65" x2="148.85" y2="480.45" stroke="#222" stroke-width="0.9"/>
<text x="148.85" y="499.5" text-anchor="middle" class="tk">Q2</text>
<line x1="192.45" y1="485.65" x2="192.45" y2="480.45" stroke="#222" stroke-width="0.9"/>
<text x="192.45" y="499.5" text-anchor="middle" class="tk">Q3</text>
<line x1="236.05" y1="485.65" x2="236.05" y2="480.45" stroke="#222" stroke-width="0.9"/>
<text x="236.05" y="499.5" text-anchor="middle" class="tk">Q4</text>
<text x="169.8" y="516.8" text-anchor="middle" class="ax">Section</text>
<text transform="translate(38.6 376.1) rotate(-90)" text-anchor="middle" class="ax">Force percentage (%)</text>
<rect x="284.6" y="271.9" width="64.5" height="81.1" rx="5" ry="5" fill="#f7f7f7" stroke="#3c3c3c" stroke-width="1.2" stroke-dasharray="2.6 1.3"/>
<g filter="url(#heatinset)"><ellipse cx="321.1" cy="283.9" rx="2.3" ry="1.8" fill="#fff" fill-opacity="0.36"/><ellipse cx="314.5" cy="283" rx="0.9" ry="0.8" fill="#fff" fill-opacity="0.16"/><path d="M311.11,293.27 C311.30,292.38 311.46,291.62 312.16,291.19 C312.85,290.75 314.43,290.87 315.30,290.68 C316.17,290.48 316.63,290.07 317.37,290.02 C318.10,289.97 318.95,290.19 319.73,290.39 C320.50,290.59 321.22,290.99 322.02,291.21 C322.82,291.43 323.79,291.36 324.53,291.72 C325.27,292.07 325.85,292.82 326.46,293.35 C327.07,293.89 327.55,294.03 328.17,294.95 C328.78,295.87 329.61,297.58 330.15,298.87 C330.68,300.16 331.35,301.39 331.37,302.68 C331.38,303.98 330.87,305.48 330.24,306.65 C329.61,307.82 328.36,309.09 327.58,309.70 C326.81,310.32 326.19,310.50 325.58,310.34 C324.96,310.18 324.61,309.33 323.89,308.73 C323.16,308.14 321.91,307.87 321.21,306.78 C320.51,305.69 320.59,303.30 319.69,302.20 C318.78,301.11 316.99,300.75 315.76,300.21 C314.52,299.67 313.09,299.58 312.30,298.96 C311.52,298.35 311.24,297.48 311.05,296.53 C310.85,295.58 310.93,294.16 311.11,293.27 Z" fill="#fff" fill-opacity="0.33"/><path d="M312.83,293.69 C312.93,293.05 312.75,292.76 313.17,292.44 C313.60,292.13 314.34,291.85 315.37,291.79 C316.40,291.72 318.00,291.74 319.37,292.04 C320.73,292.35 322.26,292.96 323.54,293.62 C324.83,294.28 326.17,295.06 327.07,296.00 C327.97,296.94 328.58,298.18 328.92,299.27 C329.26,300.35 329.18,301.45 329.11,302.52 C329.04,303.60 329.00,304.80 328.50,305.71 C328.00,306.62 326.47,307.40 326.10,307.98 C325.72,308.57 326.74,309.66 326.23,309.22 C325.73,308.78 324.04,306.64 323.06,305.35 C322.08,304.05 321.51,302.45 320.37,301.44 C319.23,300.43 317.40,299.86 316.23,299.27 C315.06,298.68 313.94,298.40 313.33,297.90 C312.72,297.39 312.64,296.95 312.56,296.25 C312.48,295.55 312.73,294.32 312.83,293.69 Z" fill="#fff" fill-opacity="0.3" filter="url(#b2_0)"/><path d="M325.80,310.40 C326.08,310.95 326.00,311.95 325.74,312.64 C325.49,313.33 324.78,314.15 324.27,314.53 C323.76,314.90 322.99,315.07 322.69,314.90 C322.40,314.74 322.41,314.21 322.50,313.53 C322.59,312.85 322.96,311.54 323.23,310.83 C323.49,310.13 323.67,309.37 324.10,309.29 C324.53,309.22 325.53,309.84 325.80,310.40 Z" fill="#fff" fill-opacity="0.3"/><path d="M320.20,292.60 C320.71,292.20 322.76,293.36 324.01,294.24 C325.26,295.11 327.03,296.45 327.69,297.86 C328.36,299.27 328.12,301.48 328.02,302.70 C327.92,303.93 327.58,304.93 327.11,305.21 C326.63,305.49 325.89,305.07 325.16,304.37 C324.44,303.68 323.45,302.32 322.75,301.03 C322.05,299.74 321.39,298.05 320.97,296.64 C320.54,295.24 319.69,293.00 320.20,292.60 Z" fill="#fff" fill-opacity="0.3" filter="url(#b1_5)"/><ellipse cx="327.1" cy="300.9" rx="2.5" ry="2.5" fill="#fff" fill-opacity="0.45" filter="url(#b1_2)"/><path d="M306.65,327.90 C306.88,326.65 307.91,325.83 308.82,324.87 C309.73,323.91 311.19,322.67 312.10,322.13 C313.01,321.59 313.55,321.95 314.27,321.65 C314.98,321.36 315.36,320.56 316.38,320.35 C317.40,320.15 319.44,320.25 320.38,320.41 C321.32,320.57 321.95,320.47 322.00,321.29 C322.05,322.11 321.08,324.28 320.69,325.33 C320.30,326.38 319.76,326.80 319.69,327.60 C319.61,328.41 320.41,329.09 320.22,330.15 C320.04,331.22 319.25,332.84 318.57,333.97 C317.89,335.10 317.28,336.37 316.13,336.94 C314.98,337.51 312.94,337.60 311.67,337.39 C310.40,337.19 309.20,336.54 308.49,335.70 C307.79,334.85 307.75,333.64 307.45,332.34 C307.14,331.04 306.42,329.14 306.65,327.90 Z" fill="#fff" fill-opacity="0.33"/><ellipse cx="313.5" cy="329" rx="6.5" ry="7.5" fill="#fff" fill-opacity="0.35" filter="url(#b1_2)"/><ellipse cx="313" cy="330" rx="4.5" ry="5.5" fill="#fff" fill-opacity="0.9" filter="url(#b1_5)"/></g>
<line x1="317.9" y1="277" x2="317.9" y2="341" stroke="#444" stroke-width="1.3"/>
<line x1="299.7" y1="309.8" x2="336.8" y2="309.8" stroke="#444" stroke-width="1.3"/>
<g opacity="0.99">
<text x="292.9" y="286.7" class="iq">Q1</text>
<text x="331.4" y="287.1" class="iq">Q2</text>
<text x="292.9" y="348.7" class="iq">Q3</text>
<text x="331.3" y="349.6" class="iq">Q4</text>
</g>
<circle cx="105.25" cy="444.8" r="2.45" fill="#000" stroke="#000" stroke-width="0.6"/>
<circle cx="148.85" cy="331.0" r="2.45" fill="#000" stroke="#000" stroke-width="0.6"/>
<circle cx="192.45" cy="374.8" r="2.45" fill="#000" stroke="#000" stroke-width="0.6"/>
<circle cx="236.05" cy="355.7" r="2.45" fill="#000" stroke="#000" stroke-width="0.6"/>
<path d="M102.32,441.00 L108.18,441.00 L105.25,446.00 Z" fill="#000" stroke="#000" stroke-width="0.6"/>
<path d="M145.92,331.40 L151.78,331.40 L148.85,336.40 Z" fill="#000" stroke="#000" stroke-width="0.6"/>
<path d="M189.52,360.40 L195.38,360.40 L192.45,365.40 Z" fill="#000" stroke="#000" stroke-width="0.6"/>
<path d="M233.12,365.90 L238.98,365.90 L236.05,370.90 Z" fill="#000" stroke="#000" stroke-width="0.6"/>
<rect x="102.90" y="402.95" width="4.7" height="4.7" fill="#000" stroke="#000" stroke-width="0.6"/>
<rect x="146.50" y="349.35" width="4.7" height="4.7" fill="#000" stroke="#000" stroke-width="0.6"/>
<rect x="190.10" y="375.25" width="4.7" height="4.7" fill="#000" stroke="#000" stroke-width="0.6"/>
<rect x="233.70" y="369.65" width="4.7" height="4.7" fill="#000" stroke="#000" stroke-width="0.6"/>
<circle cx="105.25" cy="465.5" r="2.45" fill="#fff" stroke="#222" stroke-width="0.9"/>
<circle cx="148.85" cy="310.2" r="2.45" fill="#fff" stroke="#222" stroke-width="0.9"/>
<circle cx="192.45" cy="358.5" r="2.45" fill="#fff" stroke="#222" stroke-width="0.9"/>
<circle cx="236.05" cy="371.4" r="2.45" fill="#fff" stroke="#222" stroke-width="0.9"/>
<path d="M102.32,473.50 L108.18,473.50 L105.25,478.50 Z" fill="#fff" stroke="#222" stroke-width="0.9"/>
<path d="M145.92,347.80 L151.78,347.80 L148.85,352.80 Z" fill="#fff" stroke="#222" stroke-width="0.9"/>
<path d="M189.52,324.50 L195.38,324.50 L192.45,329.50 Z" fill="#fff" stroke="#222" stroke-width="0.9"/>
<path d="M233.12,353.00 L238.98,353.00 L236.05,358.00 Z" fill="#fff" stroke="#222" stroke-width="0.9"/>
<rect x="102.90" y="449.65" width="4.7" height="4.7" fill="#fff" stroke="#222" stroke-width="0.9"/>
<rect x="146.50" y="340.75" width="4.7" height="4.7" fill="#fff" stroke="#222" stroke-width="0.9"/>
<rect x="190.10" y="328.15" width="4.7" height="4.7" fill="#fff" stroke="#222" stroke-width="0.9"/>
<rect x="233.70" y="377.65" width="4.7" height="4.7" fill="#fff" stroke="#222" stroke-width="0.9"/>
<circle cx="236.2" cy="281.5" r="2.5500000000000003" fill="#000" stroke="#000" stroke-width="0.6"/>
<text x="248.4" y="284.00" class="lg">VD20</text>
<path d="M233.15,288.70 L239.25,288.70 L236.20,293.90 Z" fill="#000" stroke="#000" stroke-width="0.6"/>
<text x="248.4" y="293.70" class="lg">VD50</text>
<rect x="233.75" y="297.95" width="4.9" height="4.9" fill="#000" stroke="#000" stroke-width="0.6"/>
<text x="248.4" y="302.60" class="lg">VD80</text>
<circle cx="236.2" cy="309.5" r="2.5500000000000003" fill="#fff" stroke="#333" stroke-width="0.9"/>
<text x="248.4" y="311.90" class="lg">HD20</text>
<path d="M233.15,316.60 L239.25,316.60 L236.20,321.80 Z" fill="#fff" stroke="#333" stroke-width="0.9"/>
<text x="248.4" y="321.10" class="lg">HD50</text>
<rect x="233.75" y="325.55" width="4.9" height="4.9" fill="#fff" stroke="#333" stroke-width="0.9"/>
<text x="248.4" y="330.60" class="lg">HD80</text>
<path d="M420.15,485.8 L420.15,268.1 L638.35,268.1 L638.35,485.8 Z" fill="none" stroke="#000" stroke-width="1.7"/>
<line x1="420.15" y1="453.60" x2="422.95" y2="453.60" stroke="#222" stroke-width="0.9"/>
<line x1="420.15" y1="432.90" x2="424.95" y2="432.90" stroke="#222" stroke-width="0.9"/>
<line x1="420.15" y1="412.20" x2="422.95" y2="412.20" stroke="#222" stroke-width="0.9"/>
<line x1="420.15" y1="391.50" x2="424.95" y2="391.50" stroke="#222" stroke-width="0.9"/>
<line x1="420.15" y1="370.80" x2="422.95" y2="370.80" stroke="#222" stroke-width="0.9"/>
<line x1="420.15" y1="350.10" x2="424.95" y2="350.10" stroke="#222" stroke-width="0.9"/>
<line x1="420.15" y1="329.40" x2="422.95" y2="329.40" stroke="#222" stroke-width="0.9"/>
<line x1="420.15" y1="308.70" x2="424.95" y2="308.70" stroke="#222" stroke-width="0.9"/>
<line x1="420.15" y1="288.00" x2="422.95" y2="288.00" stroke="#222" stroke-width="0.9"/>
<text x="415.54999999999995" y="271.00" text-anchor="end" class="tk">120</text>
<text x="415.54999999999995" y="311.90" text-anchor="end" class="tk">110</text>
<text x="415.54999999999995" y="353.30" text-anchor="end" class="tk">100</text>
<text x="415.54999999999995" y="394.70" text-anchor="end" class="tk">90</text>
<text x="415.54999999999995" y="436.10" text-anchor="end" class="tk">80</text>
<text x="415.54999999999995" y="477.50" text-anchor="end" class="tk">70</text>
<text x="415.54999999999995" y="488.60" text-anchor="end" class="tk">0</text>
<text x="420.20" y="499.7" text-anchor="middle" class="tk">0</text>
<line x1="441.45" y1="485.8" x2="441.45" y2="483.2" stroke="#222" stroke-width="0.9"/>
<line x1="462.70" y1="485.8" x2="462.70" y2="481.0" stroke="#222" stroke-width="0.9"/>
<text x="462.70" y="499.7" text-anchor="middle" class="tk">2</text>
<line x1="483.95" y1="485.8" x2="483.95" y2="483.2" stroke="#222" stroke-width="0.9"/>
<line x1="505.20" y1="485.8" x2="505.20" y2="481.0" stroke="#222" stroke-width="0.9"/>
<text x="505.20" y="499.7" text-anchor="middle" class="tk">4</text>
<line x1="526.45" y1="485.8" x2="526.45" y2="483.2" stroke="#222" stroke-width="0.9"/>
<line x1="547.70" y1="485.8" x2="547.70" y2="481.0" stroke="#222" stroke-width="0.9"/>
<text x="547.70" y="499.7" text-anchor="middle" class="tk">6</text>
<line x1="568.95" y1="485.8" x2="568.95" y2="483.2" stroke="#222" stroke-width="0.9"/>
<line x1="590.20" y1="485.8" x2="590.20" y2="481.0" stroke="#222" stroke-width="0.9"/>
<text x="590.20" y="499.7" text-anchor="middle" class="tk">8</text>
<line x1="611.45" y1="485.8" x2="611.45" y2="483.2" stroke="#222" stroke-width="0.9"/>
<line x1="632.70" y1="485.8" x2="632.70" y2="481.0" stroke="#222" stroke-width="0.9"/>
<text x="632.70" y="499.7" text-anchor="middle" class="tk">10</text>
<line x1="415.1" y1="478.6" x2="424.8" y2="470.1" stroke="#666" stroke-width="0.8"/>
<line x1="415.1" y1="481.2" x2="424.8" y2="472.7" stroke="#666" stroke-width="0.8"/>
<path d="M634.8,477.5 L641.3,472.1 L641.3,473.6 L635.0,479.0 Z" fill="#fff"/>
<line x1="633.3" y1="478.3" x2="642.8" y2="470.3" stroke="#666" stroke-width="0.8"/>
<line x1="633.5" y1="480.8" x2="642.8" y2="472.8" stroke="#666" stroke-width="0.8"/>
<text x="528.8" y="516.9" text-anchor="middle" class="ax" letter-spacing="0.3">Time (s)</text>
<text transform="translate(390.9 375.9) rotate(-90)" text-anchor="middle" class="ax" letter-spacing="0.15">Force (N)</text>
<polyline points="420.20,370.9 441.45,370.9 462.70,365.7 483.95,360.4 505.20,360.4 526.45,355.0 547.70,370.6 568.95,370.6 590.20,365.1 611.45,365.1 632.70,375.7" fill="none" stroke="#3a3a3a" stroke-width="0.85" stroke-dasharray="3.8 1.8"/>
<polyline points="420.20,409.3 441.45,404.3 462.70,404.3 483.95,397.0 505.20,398.8 526.45,400.5 547.70,401.0 568.95,398.8 590.20,395.5 611.45,393.6 632.70,395.8" fill="none" stroke="#3a3a3a" stroke-width="0.85" stroke-dasharray="3.8 1.8"/>
<polyline points="420.20,444.8 441.45,444.0 462.70,442.9 483.95,445.2 505.20,443.9 526.45,439.8 547.70,441.1 568.95,439.6 590.20,438.9 611.45,437.1 632.70,438.9" fill="none" stroke="#3a3a3a" stroke-width="0.85" stroke-dasharray="3.8 1.8"/>
<polyline points="420.20,319.3 441.45,319.3 462.70,329.8 483.95,319.3 505.20,335.0 526.45,335.0 547.70,319.2 568.95,319.2 590.20,319.2 611.45,324.3 632.70,324.3" fill="none" stroke="#3a3a3a" stroke-width="0.85" stroke-dasharray="3.8 1.8"/>
<polyline points="420.20,416.6 441.45,421.7 462.70,421.9 483.95,421.9 505.20,421.9 526.45,427.4 547.70,427.4 568.95,427.4 590.20,427.4 611.45,427.4 632.70,421.9" fill="none" stroke="#3a3a3a" stroke-width="0.85" stroke-dasharray="3.8 1.8"/>
<polyline points="420.20,427.3 441.45,432.7 462.70,432.4 483.95,427.3 505.20,427.3 526.45,427.4 547.70,432.5 568.95,427.4 590.20,432.5 611.45,427.4 632.70,432.5" fill="none" stroke="#3a3a3a" stroke-width="0.85" stroke-dasharray="3.8 1.8"/>
<circle cx="420.2" cy="370.9" r="2.75" fill="#7d0a0a" stroke="#111" stroke-width="0.55"/>
<circle cx="441.45" cy="370.9" r="2.75" fill="#7d0a0a" stroke="#111" stroke-width="0.55"/>
<circle cx="462.7" cy="365.7" r="2.75" fill="#7d0a0a" stroke="#111" stroke-width="0.55"/>
<circle cx="483.95" cy="360.4" r="2.75" fill="#7d0a0a" stroke="#111" stroke-width="0.55"/>
<circle cx="505.2" cy="360.4" r="2.75" fill="#7d0a0a" stroke="#111" stroke-width="0.55"/>
<circle cx="526.45" cy="355.0" r="2.75" fill="#7d0a0a" stroke="#111" stroke-width="0.55"/>
<circle cx="547.7" cy="370.6" r="2.75" fill="#7d0a0a" stroke="#111" stroke-width="0.55"/>
<circle cx="568.95" cy="370.6" r="2.75" fill="#7d0a0a" stroke="#111" stroke-width="0.55"/>
<circle cx="590.2" cy="365.1" r="2.75" fill="#7d0a0a" stroke="#111" stroke-width="0.55"/>
<circle cx="611.45" cy="365.1" r="2.75" fill="#7d0a0a" stroke="#111" stroke-width="0.55"/>
<circle cx="632.7" cy="375.7" r="2.75" fill="#7d0a0a" stroke="#111" stroke-width="0.55"/>
<path d="M417.04,406.61 L423.36,406.61 L420.20,412.00 Z" fill="#ff7f00" stroke="#111" stroke-width="0.55"/>
<path d="M438.29,401.61 L444.61,401.61 L441.45,407.00 Z" fill="#ff7f00" stroke="#111" stroke-width="0.55"/>
<path d="M459.54,401.61 L465.86,401.61 L462.70,407.00 Z" fill="#ff7f00" stroke="#111" stroke-width="0.55"/>
<path d="M480.79,394.31 L487.11,394.31 L483.95,399.69 Z" fill="#ff7f00" stroke="#111" stroke-width="0.55"/>
<path d="M502.04,396.11 L508.36,396.11 L505.20,401.50 Z" fill="#ff7f00" stroke="#111" stroke-width="0.55"/>
<path d="M523.29,397.81 L529.61,397.81 L526.45,403.19 Z" fill="#ff7f00" stroke="#111" stroke-width="0.55"/>
<path d="M544.54,398.31 L550.86,398.31 L547.70,403.69 Z" fill="#ff7f00" stroke="#111" stroke-width="0.55"/>
<path d="M565.79,396.11 L572.11,396.11 L568.95,401.50 Z" fill="#ff7f00" stroke="#111" stroke-width="0.55"/>
<path d="M587.04,392.81 L593.36,392.81 L590.20,398.19 Z" fill="#ff7f00" stroke="#111" stroke-width="0.55"/>
<path d="M608.29,390.91 L614.61,390.91 L611.45,396.30 Z" fill="#ff7f00" stroke="#111" stroke-width="0.55"/>
<path d="M629.54,393.11 L635.86,393.11 L632.70,398.50 Z" fill="#ff7f00" stroke="#111" stroke-width="0.55"/>
<rect x="417.75" y="442.35" width="4.9" height="4.9" fill="#cccc00" stroke="#111" stroke-width="0.55"/>
<rect x="439.00" y="441.55" width="4.9" height="4.9" fill="#cccc00" stroke="#111" stroke-width="0.55"/>
<rect x="460.25" y="440.45" width="4.9" height="4.9" fill="#cccc00" stroke="#111" stroke-width="0.55"/>
<rect x="481.50" y="442.75" width="4.9" height="4.9" fill="#cccc00" stroke="#111" stroke-width="0.55"/>
<rect x="502.75" y="441.45" width="4.9" height="4.9" fill="#cccc00" stroke="#111" stroke-width="0.55"/>
<rect x="524.00" y="437.35" width="4.9" height="4.9" fill="#cccc00" stroke="#111" stroke-width="0.55"/>
<rect x="545.25" y="438.65" width="4.9" height="4.9" fill="#cccc00" stroke="#111" stroke-width="0.55"/>
<rect x="566.50" y="437.15" width="4.9" height="4.9" fill="#cccc00" stroke="#111" stroke-width="0.55"/>
<rect x="587.75" y="436.45" width="4.9" height="4.9" fill="#cccc00" stroke="#111" stroke-width="0.55"/>
<rect x="609.00" y="434.65" width="4.9" height="4.9" fill="#cccc00" stroke="#111" stroke-width="0.55"/>
<rect x="630.25" y="436.45" width="4.9" height="4.9" fill="#cccc00" stroke="#111" stroke-width="0.55"/>
<path d="M420.20,315.60 L423.90,319.30 L420.20,323.00 L416.50,319.30 Z" fill="#0a7e0a" stroke="#111" stroke-width="0.55"/>
<path d="M441.45,315.60 L445.15,319.30 L441.45,323.00 L437.75,319.30 Z" fill="#0a7e0a" stroke="#111" stroke-width="0.55"/>
<path d="M462.70,326.10 L466.40,329.80 L462.70,333.50 L459.00,329.80 Z" fill="#0a7e0a" stroke="#111" stroke-width="0.55"/>
<path d="M483.95,315.60 L487.65,319.30 L483.95,323.00 L480.25,319.30 Z" fill="#0a7e0a" stroke="#111" stroke-width="0.55"/>
<path d="M505.20,331.30 L508.90,335.00 L505.20,338.70 L501.50,335.00 Z" fill="#0a7e0a" stroke="#111" stroke-width="0.55"/>
<path d="M526.45,331.30 L530.15,335.00 L526.45,338.70 L522.75,335.00 Z" fill="#0a7e0a" stroke="#111" stroke-width="0.55"/>
<path d="M547.70,315.50 L551.40,319.20 L547.70,322.90 L544.00,319.20 Z" fill="#0a7e0a" stroke="#111" stroke-width="0.55"/>
<path d="M568.95,315.50 L572.65,319.20 L568.95,322.90 L565.25,319.20 Z" fill="#0a7e0a" stroke="#111" stroke-width="0.55"/>
<path d="M590.20,315.50 L593.90,319.20 L590.20,322.90 L586.50,319.20 Z" fill="#0a7e0a" stroke="#111" stroke-width="0.55"/>
<path d="M611.45,320.60 L615.15,324.30 L611.45,328.00 L607.75,324.30 Z" fill="#0a7e0a" stroke="#111" stroke-width="0.55"/>
<path d="M632.70,320.60 L636.40,324.30 L632.70,328.00 L629.00,324.30 Z" fill="#0a7e0a" stroke="#111" stroke-width="0.55"/>
<path d="M417.04,419.30 L423.36,419.30 L420.20,413.91 Z" fill="#108a8a" stroke="#111" stroke-width="0.55"/>
<path d="M438.29,424.39 L444.61,424.39 L441.45,419.00 Z" fill="#108a8a" stroke="#111" stroke-width="0.55"/>
<path d="M459.54,424.59 L465.86,424.59 L462.70,419.20 Z" fill="#108a8a" stroke="#111" stroke-width="0.55"/>
<path d="M480.79,424.59 L487.11,424.59 L483.95,419.20 Z" fill="#108a8a" stroke="#111" stroke-width="0.55"/>
<path d="M502.04,424.59 L508.36,424.59 L505.20,419.20 Z" fill="#108a8a" stroke="#111" stroke-width="0.55"/>
<path d="M523.29,430.09 L529.61,430.09 L526.45,424.70 Z" fill="#108a8a" stroke="#111" stroke-width="0.55"/>
<path d="M544.54,430.09 L550.86,430.09 L547.70,424.70 Z" fill="#108a8a" stroke="#111" stroke-width="0.55"/>
<path d="M565.79,430.09 L572.11,430.09 L568.95,424.70 Z" fill="#108a8a" stroke="#111" stroke-width="0.55"/>
<path d="M587.04,430.09 L593.36,430.09 L590.20,424.70 Z" fill="#108a8a" stroke="#111" stroke-width="0.55"/>
<path d="M608.29,430.09 L614.61,430.09 L611.45,424.70 Z" fill="#108a8a" stroke="#111" stroke-width="0.55"/>
<path d="M629.54,424.59 L635.86,424.59 L632.70,419.20 Z" fill="#108a8a" stroke="#111" stroke-width="0.55"/>
<circle cx="420.2" cy="427.3" r="2.75" fill="#0d3f8c" stroke="#111" stroke-width="0.55"/>
<circle cx="441.45" cy="432.7" r="2.75" fill="#0d3f8c" stroke="#111" stroke-width="0.55"/>
<circle cx="462.7" cy="432.4" r="2.75" fill="#0d3f8c" stroke="#111" stroke-width="0.55"/>
<circle cx="483.95" cy="427.3" r="2.75" fill="#0d3f8c" stroke="#111" stroke-width="0.55"/>
<circle cx="505.2" cy="427.3" r="2.75" fill="#0d3f8c" stroke="#111" stroke-width="0.55"/>
<circle cx="526.45" cy="427.4" r="2.75" fill="#0d3f8c" stroke="#111" stroke-width="0.55"/>
<circle cx="547.7" cy="432.5" r="2.75" fill="#0d3f8c" stroke="#111" stroke-width="0.55"/>
<circle cx="568.95" cy="427.4" r="2.75" fill="#0d3f8c" stroke="#111" stroke-width="0.55"/>
<circle cx="590.2" cy="432.5" r="2.75" fill="#0d3f8c" stroke="#111" stroke-width="0.55"/>
<circle cx="611.45" cy="427.4" r="2.75" fill="#0d3f8c" stroke="#111" stroke-width="0.55"/>
<circle cx="632.7" cy="432.5" r="2.75" fill="#0d3f8c" stroke="#111" stroke-width="0.55"/>
<line x1="643.1" y1="276.2" x2="659.9" y2="276.2" stroke="#1a1a1a" stroke-width="0.9"/>
<circle cx="651.9" cy="276.2" r="2.56" fill="#7d0a0a" stroke="#111" stroke-width="0.55"/>
<text x="664.8" y="278.60" class="lg">VD20</text>
<line x1="643.1" y1="285.3" x2="659.9" y2="285.3" stroke="#1a1a1a" stroke-width="0.9"/>
<path d="M648.96,282.79 L654.84,282.79 L651.90,287.81 Z" fill="#ff7f00" stroke="#111" stroke-width="0.55"/>
<text x="664.8" y="287.80" class="lg">VD50</text>
<line x1="643.1" y1="294.4" x2="659.9" y2="294.4" stroke="#1a1a1a" stroke-width="0.9"/>
<rect x="649.62" y="292.12" width="4.56" height="4.56" fill="#cccc00" stroke="#111" stroke-width="0.55"/>
<text x="664.8" y="297.00" class="lg">VD80</text>
<line x1="643.1" y1="304.0" x2="659.9" y2="304.0" stroke="#1a1a1a" stroke-width="0.9"/>
<path d="M651.90,300.56 L655.34,304.00 L651.90,307.44 L648.46,304.00 Z" fill="#0a7e0a" stroke="#111" stroke-width="0.55"/>
<text x="664.8" y="306.70" class="lg">HD20</text>
<line x1="643.1" y1="313.1" x2="659.9" y2="313.1" stroke="#1a1a1a" stroke-width="0.9"/>
<path d="M648.96,315.61 L654.84,315.61 L651.90,310.59 Z" fill="#108a8a" stroke="#111" stroke-width="0.55"/>
<text x="664.8" y="315.60" class="lg">HD50</text>
<line x1="643.1" y1="322.3" x2="659.9" y2="322.3" stroke="#1a1a1a" stroke-width="0.9"/>
<circle cx="651.9" cy="322.3" r="2.56" fill="#0d3f8c" stroke="#111" stroke-width="0.55"/>
<text x="664.8" y="324.70" class="lg">HD80</text>
</svg>
</body></html>
